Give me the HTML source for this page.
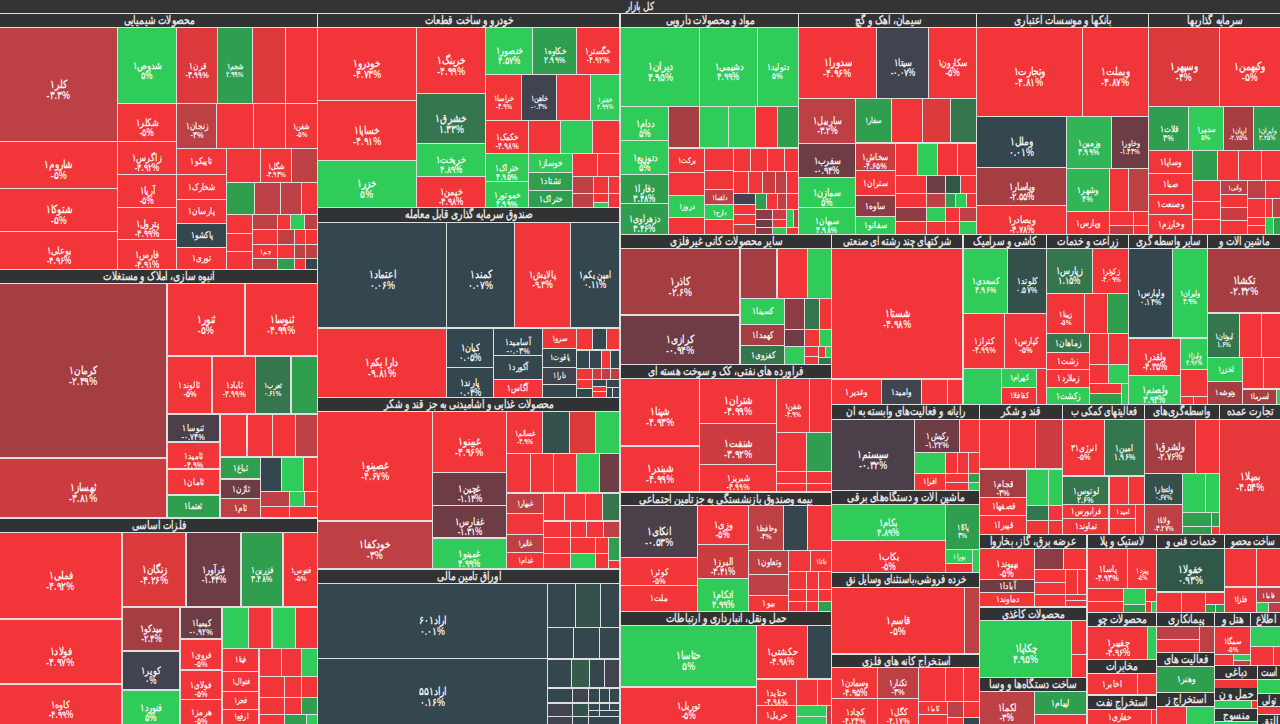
<!DOCTYPE html>
<html lang="fa"><head><meta charset="utf-8"><title>نقشه بازار</title>
<style>
html,body{margin:0;padding:0;}
body{width:1280px;height:724px;overflow:hidden;position:relative;background:#dedede;font-family:"Liberation Sans",sans-serif;}
.c,.h,.t{position:absolute;box-sizing:border-box;}
.c{display:flex;align-items:center;justify-content:center;flex-direction:column;color:rgba(255,255,255,0.92);font-weight:bold;text-align:center;overflow:hidden;white-space:nowrap;line-height:1;}
.h{background:#303234;color:#e2e2e2;font-weight:bold;font-size:12px;line-height:13px;text-align:center;overflow:hidden;white-space:nowrap;direction:rtl;}
.h b{position:absolute;left:50%;top:0;transform-origin:center;}
.t{left:0;top:0;width:1280px;height:13px;background:#333333;color:#e0e0e0;font-weight:bold;font-size:12px;line-height:13px;text-align:center;}
.c span{display:inline-block;direction:rtl;position:relative;}
.c span.p{direction:ltr;}
.c.two span{top:5px;}
</style></head><body>
<div class="t"><span style="display:inline-block;font-size:11px;transform:scaleX(0.8)">کل بازار</span></div>

<div class="h" style="left:0px;top:14px;width:317px;height:13px"><b id="h0" style="transform:translateX(-50%) scaleX(0.760)">محصولات شیمیایی</b></div>
<div class="h" style="left:0px;top:270px;width:317px;height:13px"><b id="h1" style="transform:translateX(-50%) scaleX(0.760)">انبوه سازی، املاک و مستغلات</b></div>
<div class="h" style="left:0px;top:519px;width:317px;height:13px"><b id="h2" style="transform:translateX(-50%) scaleX(0.760)">فلزات اساسی</b></div>
<div class="h" style="left:318px;top:14px;width:301px;height:13px"><b id="h3" style="transform:translateX(-50%) scaleX(0.760)">خودرو و ساخت قطعات</b></div>
<div class="h" style="left:318px;top:208px;width:301px;height:14px"><b id="h4" style="transform:translateX(-50%) scaleX(0.760)">صندوق سرمایه گذاری قابل معامله</b></div>
<div class="h" style="left:318px;top:398px;width:301px;height:13px"><b id="h5" style="transform:translateX(-50%) scaleX(0.760)">محصولات غذایی و آشامیدنی به جز قند و شکر</b></div>
<div class="h" style="left:318px;top:570px;width:301px;height:13px"><b id="h6" style="transform:translateX(-50%) scaleX(0.760)">اوراق تامین مالی</b></div>
<div class="h" style="left:621px;top:14px;width:177px;height:13px"><b id="h7" style="transform:translateX(-50%) scaleX(0.760)">مواد و محصولات دارویی</b></div>
<div class="h" style="left:799px;top:14px;width:177px;height:13px"><b id="h8" style="transform:translateX(-50%) scaleX(0.760)">سیمان، آهک و گچ</b></div>
<div class="h" style="left:977px;top:14px;width:171px;height:13px"><b id="h9" style="transform:translateX(-50%) scaleX(0.760)">بانکها و موسسات اعتباری</b></div>
<div class="h" style="left:1149px;top:14px;width:131px;height:13px"><b id="h10" style="transform:translateX(-50%) scaleX(0.760)">سرمایه گذاریها</b></div>
<div class="h" style="left:621px;top:235px;width:210px;height:13px"><b id="h11" style="transform:translateX(-50%) scaleX(0.760)">سایر محصولات کانی غیرفلزی</b></div>
<div class="h" style="left:621px;top:365px;width:210px;height:13px"><b id="h12" style="transform:translateX(-50%) scaleX(0.760)">فراورده های نفتی، کک و سوخت هسته ای</b></div>
<div class="h" style="left:621px;top:493px;width:210px;height:12px"><b id="h13" style="transform:translateX(-50%) scaleX(0.760)">بیمه وصندوق بازنشستگی به جزتامین اجتماعی</b></div>
<div class="h" style="left:621px;top:612px;width:210px;height:13px"><b id="h14" style="transform:translateX(-50%) scaleX(0.760)">حمل ونقل، انبارداری و ارتباطات</b></div>
<div class="h" style="left:832px;top:235px;width:130px;height:13px"><b id="h15" style="transform:translateX(-50%) scaleX(0.726)">شرکتهای چند رشته ای صنعتی</b></div>
<div class="h" style="left:964px;top:235px;width:82px;height:13px"><b id="h16" style="transform:translateX(-50%) scaleX(0.760)">کاشی و سرامیک</b></div>
<div class="h" style="left:1047px;top:235px;width:81px;height:13px"><b id="h17" style="transform:translateX(-50%) scaleX(0.760)">زراعت و خدمات</b></div>
<div class="h" style="left:1129px;top:235px;width:78px;height:13px"><b id="h18" style="transform:translateX(-50%) scaleX(0.735)">سایر واسطه گری</b></div>
<div class="h" style="left:1208px;top:235px;width:72px;height:13px"><b id="h19" style="transform:translateX(-50%) scaleX(0.760)">ماشین آلات و</b></div>
<div class="h" style="left:832px;top:405px;width:147px;height:14px"><b id="h20" style="transform:translateX(-50%) scaleX(0.760)">رایانه و فعالیت‌های وابسته به آن</b></div>
<div class="h" style="left:980px;top:405px;width:82px;height:14px"><b id="h21" style="transform:translateX(-50%) scaleX(0.760)">قند و شکر</b></div>
<div class="h" style="left:1063px;top:405px;width:81px;height:14px"><b id="h22" style="transform:translateX(-50%) scaleX(0.703)">فعالیتهای کمکی ب</b></div>
<div class="h" style="left:1145px;top:405px;width:74px;height:14px"><b id="h23" style="transform:translateX(-50%) scaleX(0.760)">واسطه‌گری‌های</b></div>
<div class="h" style="left:1220px;top:405px;width:60px;height:14px"><b id="h24" style="transform:translateX(-50%) scaleX(0.760)">تجارت عمده</b></div>
<div class="h" style="left:832px;top:491px;width:147px;height:13px"><b id="h25" style="transform:translateX(-50%) scaleX(0.760)">ماشین آلات و دستگاه‌های برقی</b></div>
<div class="h" style="left:832px;top:573px;width:147px;height:14px"><b id="h26" style="transform:translateX(-50%) scaleX(0.727)">خرده فروشی،باستثنای وسایل نق</b></div>
<div class="h" style="left:832px;top:655px;width:147px;height:12px"><b id="h27" style="transform:translateX(-50%) scaleX(0.760)">استخراج کانه های فلزی</b></div>
<div class="h" style="left:980px;top:535px;width:106px;height:13px"><b id="h28" style="transform:translateX(-50%) scaleX(0.760)">عرضه برق، گاز، بخاروآ</b></div>
<div class="h" style="left:980px;top:608px;width:106px;height:12px"><b id="h29" style="transform:translateX(-50%) scaleX(0.760)">محصولات کاغذی</b></div>
<div class="h" style="left:980px;top:678px;width:106px;height:13px"><b id="h30" style="transform:translateX(-50%) scaleX(0.760)">ساخت دستگاه‌ها و وسا</b></div>
<div class="h" style="left:1088px;top:535px;width:68px;height:13px"><b id="h31" style="transform:translateX(-50%) scaleX(0.760)">لاستیک و پلا</b></div>
<div class="h" style="left:1157px;top:535px;width:67px;height:13px"><b id="h32" style="transform:translateX(-50%) scaleX(0.760)">خدمات فنی و</b></div>
<div class="h" style="left:1225px;top:535px;width:55px;height:13px"><b id="h33" style="transform:translateX(-50%) scaleX(0.667)">ساخت محصو</b></div>
<div class="h" style="left:1088px;top:613px;width:68px;height:13px"><b id="h34" style="transform:translateX(-50%) scaleX(0.760)">محصولات چو</b></div>
<div class="h" style="left:1088px;top:660px;width:68px;height:13px"><b id="h35" style="transform:translateX(-50%) scaleX(0.760)">مخابرات</b></div>
<div class="h" style="left:1088px;top:696px;width:68px;height:13px"><b id="h36" style="transform:translateX(-50%) scaleX(0.760)">استخراج نفت</b></div>
<div class="h" style="left:1157px;top:613px;width:57px;height:13px"><b id="h37" style="transform:translateX(-50%) scaleX(0.760)">پیمانکاری</b></div>
<div class="h" style="left:1157px;top:653px;width:57px;height:13px"><b id="h38" style="transform:translateX(-50%) scaleX(0.760)">فعالیت های</b></div>
<div class="h" style="left:1157px;top:693px;width:57px;height:13px"><b id="h39" style="transform:translateX(-50%) scaleX(0.760)">استخراج ز</b></div>
<div class="h" style="left:1215px;top:613px;width:35px;height:13px"><b id="h40" style="transform:translateX(-50%) scaleX(0.760)">هتل و</b></div>
<div class="h" style="left:1251px;top:613px;width:29px;height:13px"><b id="h41" style="transform:translateX(-50%) scaleX(0.760)">اطلاع</b></div>
<div class="h" style="left:1215px;top:666px;width:42px;height:13px"><b id="h42" style="transform:translateX(-50%) scaleX(0.760)">دباغی</b></div>
<div class="h" style="left:1258px;top:666px;width:22px;height:13px"><b id="h43" style="transform:translateX(-50%) scaleX(0.655)">است</b></div>
<div class="h" style="left:1215px;top:688px;width:42px;height:12px"><b id="h44" style="transform:translateX(-50%) scaleX(0.760)">حمل و ن</b></div>
<div class="h" style="left:1258px;top:694px;width:22px;height:12px"><b id="h45" style="transform:translateX(-50%) scaleX(0.633)">تولی</b></div>
<div class="h" style="left:1215px;top:709px;width:42px;height:12px"><b id="h46" style="transform:translateX(-50%) scaleX(0.760)">منسوج</b></div>
<div class="h" style="left:1258px;top:715px;width:23px;height:10px"><b id="h47" style="transform:translateX(-50%) scaleX(0.760)">التق</b></div>
<div class="c two" style="left:0px;top:28px;width:117px;height:113px;background:#bd4045;font-size:11px;"><span id="c0_0" style="transform:scaleX(0.820)">کلر۱</span><span id="c0_1" class="p" style="transform:scaleX(0.820)">-۳.۳%</span></div>
<div class="c two" style="left:118px;top:28px;width:58px;height:75px;background:#30cc5a;font-size:10px;"><span id="c1_0" style="transform:scaleX(0.820)">شدوص۱</span><span id="c1_1" class="p" style="transform:scaleX(0.820)">۵%</span></div>
<div class="c two" style="left:177px;top:28px;width:40px;height:75px;background:#dc393c;font-size:9px;"><span id="c2_0" style="transform:scaleX(0.820)">قرن۱</span><span id="c2_1" class="p" style="transform:scaleX(0.820)">-۳.۹۹%</span></div>
<div class="c two" style="left:218px;top:28px;width:34px;height:75px;background:#2f9e4f;font-size:8px;"><span id="c3_0" style="transform:scaleX(0.820)">شجم۱</span><span id="c3_1" class="p" style="transform:scaleX(0.820)">۲.۹۹%</span></div>
<div class="c" style="left:253px;top:28px;width:32px;height:75px;background:#dc393c;"></div>
<div class="c" style="left:286px;top:28px;width:31px;height:75px;background:#f23538;"></div>
<div class="c two" style="left:118px;top:104px;width:58px;height:37px;background:#f23538;font-size:10px;"><span id="c6_0" style="transform:scaleX(0.820)">شکلر۱</span><span id="c6_1" class="p" style="transform:scaleX(0.820)">-۵%</span></div>
<div class="c two" style="left:177px;top:104px;width:39px;height:44px;background:#bd4045;font-size:9px;"><span id="c7_0" style="transform:scaleX(0.820)">زنجان۱</span><span id="c7_1" class="p" style="transform:scaleX(0.820)">-۳%</span></div>
<div class="c" style="left:217px;top:104px;width:36px;height:44px;background:#f23538;"></div>
<div class="c" style="left:254px;top:104px;width:31px;height:44px;background:#f23538;"></div>
<div class="c two" style="left:286px;top:104px;width:31px;height:44px;background:#f23538;font-size:8px;"><span id="c10_0" style="transform:scaleX(0.820)">شفن۱</span><span id="c10_1" class="p" style="transform:scaleX(0.820)">-۵%</span></div>
<div class="c two" style="left:0px;top:142px;width:117px;height:46px;background:#f23538;font-size:11px;"><span id="c11_0" style="transform:scaleX(0.820)">شاروم۱</span><span id="c11_1" class="p" style="transform:scaleX(0.820)">-۵%</span></div>
<div class="c two" style="left:0px;top:189px;width:117px;height:42px;background:#f23538;font-size:11px;"><span id="c12_0" style="transform:scaleX(0.820)">شتوکا۱</span><span id="c12_1" class="p" style="transform:scaleX(0.820)">-۵%</span></div>
<div class="c two" style="left:0px;top:232px;width:117px;height:37px;background:#f23538;font-size:10px;"><span id="c13_0" style="transform:scaleX(0.820)">بوعلی۱</span><span id="c13_1" class="p" style="transform:scaleX(0.820)">-۴.۹۶%</span></div>
<div class="c two" style="left:118px;top:142px;width:58px;height:32px;background:#f23538;font-size:10px;"><span id="c14_0" style="transform:scaleX(0.820)">زاگرس۱</span><span id="c14_1" class="p" style="transform:scaleX(0.820)">-۴.۹۲%</span></div>
<div class="c two" style="left:118px;top:175px;width:58px;height:32px;background:#f23538;font-size:10px;"><span id="c15_0" style="transform:scaleX(0.820)">آریا۱</span><span id="c15_1" class="p" style="transform:scaleX(0.820)">-۵%</span></div>
<div class="c two" style="left:118px;top:208px;width:58px;height:31px;background:#f23538;font-size:10px;"><span id="c16_0" style="transform:scaleX(0.820)">پترول۱</span><span id="c16_1" class="p" style="transform:scaleX(0.820)">-۴.۹۹%</span></div>
<div class="c two" style="left:118px;top:240px;width:58px;height:29px;background:#f23538;font-size:10px;"><span id="c17_0" style="transform:scaleX(0.820)">فارس۱</span><span id="c17_1" class="p" style="transform:scaleX(0.820)">-۴.۹۱%</span></div>
<div class="c" style="left:177px;top:149px;width:49px;height:25px;background:#f23538;font-size:9px;"><span id="c18_0" style="transform:scaleX(0.820)">تاپیکو۱</span></div>
<div class="c" style="left:177px;top:175px;width:49px;height:24px;background:#f23538;font-size:9px;"><span id="c19_0" style="transform:scaleX(0.820)">شخارک۱</span></div>
<div class="c" style="left:177px;top:200px;width:49px;height:23px;background:#f23538;font-size:9px;"><span id="c20_0" style="transform:scaleX(0.820)">پارسان۱</span></div>
<div class="c" style="left:177px;top:224px;width:49px;height:23px;background:#35474e;font-size:9px;"><span id="c21_0" style="transform:scaleX(0.820)">پاکشو۱</span></div>
<div class="c" style="left:177px;top:248px;width:49px;height:21px;background:#f23538;font-size:9px;"><span id="c22_0" style="transform:scaleX(0.820)">توری۱</span></div>
<div class="c" style="left:227px;top:149px;width:33px;height:33px;background:#f23538;"></div>
<div class="c two" style="left:261px;top:149px;width:30px;height:33px;background:#f23538;font-size:8px;"><span id="c24_0" style="transform:scaleX(0.820)">شگل۱</span><span id="c24_1" class="p" style="transform:scaleX(0.820)">-۴.۹۴%</span></div>
<div class="c" style="left:292px;top:149px;width:25px;height:33px;background:#bd4045;"></div>
<div class="c" style="left:227px;top:183px;width:27px;height:31px;background:#2f9e4f;"></div>
<div class="c" style="left:255px;top:183px;width:25px;height:31px;background:#bd4045;"></div>
<div class="c" style="left:281px;top:183px;width:20px;height:31px;background:#bd4045;"></div>
<div class="c" style="left:302px;top:183px;width:15px;height:31px;background:#f23538;"></div>
<div class="c" style="left:227px;top:215px;width:25px;height:18px;background:#f23538;"></div>
<div class="c" style="left:227px;top:234px;width:25px;height:17px;background:#f23538;"></div>
<div class="c" style="left:227px;top:252px;width:25px;height:17px;background:#f23538;"></div>
<div class="c" style="left:253px;top:215px;width:24px;height:14px;background:#bd4045;"></div>
<div class="c" style="left:253px;top:230px;width:24px;height:14px;background:#f23538;"></div>
<div class="c" style="left:253px;top:245px;width:24px;height:13px;background:#f23538;font-size:7px;"><span id="c35_0" style="transform:scaleX(0.820)">جم۱</span></div>
<div class="c" style="left:253px;top:259px;width:24px;height:10px;background:#bd4045;"></div>
<div class="c" style="left:278px;top:215px;width:12px;height:14px;background:#f23538;"></div>
<div class="c" style="left:291px;top:215px;width:13px;height:14px;background:#30cc5a;"></div>
<div class="c" style="left:305px;top:215px;width:12px;height:14px;background:#bd4045;"></div>
<div class="c" style="left:278px;top:230px;width:16px;height:14px;background:#bd4045;"></div>
<div class="c" style="left:295px;top:230px;width:10px;height:14px;background:#f23538;"></div>
<div class="c" style="left:306px;top:230px;width:11px;height:14px;background:#f23538;"></div>
<div class="c" style="left:278px;top:245px;width:16px;height:13px;background:#f23538;"></div>
<div class="c" style="left:295px;top:245px;width:10px;height:13px;background:#bd4045;"></div>
<div class="c" style="left:306px;top:245px;width:11px;height:13px;background:#bd4045;"></div>
<div class="c" style="left:278px;top:259px;width:16px;height:10px;background:#2f9e4f;"></div>
<div class="c" style="left:295px;top:259px;width:10px;height:10px;background:#f23538;"></div>
<div class="c" style="left:306px;top:259px;width:11px;height:10px;background:#35474e;"></div>
<div class="c two" style="left:0px;top:284px;width:166px;height:173px;background:#a53e43;font-size:11px;"><span id="c49_0" style="transform:scaleX(0.820)">کرمان۱</span><span id="c49_1" class="p" style="transform:scaleX(0.820)">-۲.۴۹%</span></div>
<div class="c two" style="left:0px;top:459px;width:166px;height:58px;background:#cb3b3f;font-size:11px;"><span id="c50_0" style="transform:scaleX(0.820)">ثهساز۱</span><span id="c50_1" class="p" style="transform:scaleX(0.820)">-۳.۸۱%</span></div>
<div class="c two" style="left:168px;top:284px;width:76px;height:71px;background:#f23538;font-size:11px;"><span id="c51_0" style="transform:scaleX(0.820)">ثنور۱</span><span id="c51_1" class="p" style="transform:scaleX(0.820)">-۵%</span></div>
<div class="c two" style="left:246px;top:284px;width:71px;height:71px;background:#f23538;font-size:11px;"><span id="c52_0" style="transform:scaleX(0.820)">ثنوسا۱</span><span id="c52_1" class="p" style="transform:scaleX(0.820)">-۴.۹۹%</span></div>
<div class="c two" style="left:168px;top:357px;width:43px;height:56px;background:#f23538;font-size:9px;"><span id="c53_0" style="transform:scaleX(0.820)">ثالوند۱</span><span id="c53_1" class="p" style="transform:scaleX(0.820)">-۵%</span></div>
<div class="c two" style="left:213px;top:357px;width:42px;height:56px;background:#f23538;font-size:9px;"><span id="c54_0" style="transform:scaleX(0.820)">ثاباد۱</span><span id="c54_1" class="p" style="transform:scaleX(0.820)">-۴.۹۹%</span></div>
<div class="c two" style="left:256px;top:357px;width:34px;height:56px;background:#35764e;font-size:8px;"><span id="c55_0" style="transform:scaleX(0.820)">ثعرب۱</span><span id="c55_1" class="p" style="transform:scaleX(0.820)">۰.۶۱%</span></div>
<div class="c" style="left:292px;top:357px;width:25px;height:56px;background:#2f9e4f;"></div>
<div class="c two" style="left:168px;top:415px;width:51px;height:26px;background:#4b3f49;font-size:9px;"><span id="c57_0" style="transform:scaleX(0.820)">ثنوسا۱</span><span id="c57_1" class="p" style="transform:scaleX(0.820)">-۰.۷۴%</span></div>
<div class="c two" style="left:168px;top:443px;width:51px;height:25px;background:#f23538;font-size:9px;"><span id="c58_0" style="transform:scaleX(0.820)">ثامید۱</span><span id="c58_1" class="p" style="transform:scaleX(0.820)">-۴.۹%</span></div>
<div class="c" style="left:168px;top:470px;width:51px;height:24px;background:#f23538;font-size:9px;"><span id="c59_0" style="transform:scaleX(0.820)">ثامان۱</span></div>
<div class="c" style="left:168px;top:496px;width:51px;height:21px;background:#2f9e4f;font-size:9px;"><span id="c60_0" style="transform:scaleX(0.820)">ثعتما۱</span></div>
<div class="c" style="left:221px;top:415px;width:25px;height:41px;background:#f23538;"></div>
<div class="c" style="left:248px;top:415px;width:24px;height:41px;background:#f23538;"></div>
<div class="c" style="left:273px;top:415px;width:22px;height:41px;background:#f23538;"></div>
<div class="c" style="left:296px;top:415px;width:21px;height:41px;background:#bd4045;"></div>
<div class="c" style="left:221px;top:458px;width:39px;height:20px;background:#2f9e4f;font-size:9px;"><span id="c65_0" style="transform:scaleX(0.820)">ثباغ۱</span></div>
<div class="c" style="left:221px;top:480px;width:39px;height:18px;background:#6e3c45;font-size:9px;"><span id="c66_0" style="transform:scaleX(0.820)">ثاژن۱</span></div>
<div class="c" style="left:221px;top:499px;width:39px;height:18px;background:#bd4045;font-size:9px;"><span id="c67_0" style="transform:scaleX(0.820)">ثام۱</span></div>
<div class="c" style="left:261px;top:458px;width:20px;height:33px;background:#35474e;"></div>
<div class="c" style="left:282px;top:458px;width:21px;height:33px;background:#30cc5a;"></div>
<div class="c" style="left:304px;top:458px;width:13px;height:33px;background:#f23538;"></div>
<div class="c" style="left:261px;top:492px;width:28px;height:14px;background:#bd4045;"></div>
<div class="c" style="left:290px;top:492px;width:14px;height:14px;background:#30cc5a;"></div>
<div class="c" style="left:305px;top:492px;width:12px;height:14px;background:#f23538;"></div>
<div class="c" style="left:261px;top:507px;width:28px;height:10px;background:#f23538;"></div>
<div class="c" style="left:290px;top:507px;width:27px;height:10px;background:#f23538;"></div>
<div class="c two" style="left:0px;top:533px;width:121px;height:85px;background:#f23538;font-size:11px;"><span id="c76_0" style="transform:scaleX(0.820)">فملی۱</span><span id="c76_1" class="p" style="transform:scaleX(0.820)">-۴.۹۲%</span></div>
<div class="c two" style="left:0px;top:620px;width:121px;height:63px;background:#f23538;font-size:11px;"><span id="c77_0" style="transform:scaleX(0.820)">فولاد۱</span><span id="c77_1" class="p" style="transform:scaleX(0.820)">-۴.۹۷%</span></div>
<div class="c two" style="left:0px;top:685px;width:121px;height:39px;background:#f23538;font-size:10px;"><span id="c78_0" style="transform:scaleX(0.820)">کاوه۱</span><span id="c78_1" class="p" style="transform:scaleX(0.820)">-۴.۹۹%</span></div>
<div class="c two" style="left:123px;top:533px;width:62px;height:73px;background:#dc393c;font-size:11px;"><span id="c79_0" style="transform:scaleX(0.820)">زنگان۱</span><span id="c79_1" class="p" style="transform:scaleX(0.820)">-۴.۲۶%</span></div>
<div class="c two" style="left:187px;top:533px;width:53px;height:73px;background:#6e3c45;font-size:10px;"><span id="c80_0" style="transform:scaleX(0.820)">فرآور۱</span><span id="c80_1" class="p" style="transform:scaleX(0.820)">-۱.۴۴%</span></div>
<div class="c two" style="left:242px;top:533px;width:40px;height:73px;background:#2f9e4f;font-size:9px;"><span id="c81_0" style="transform:scaleX(0.820)">فزرین۱</span><span id="c81_1" class="p" style="transform:scaleX(0.820)">۳.۴۸%</span></div>
<div class="c two" style="left:284px;top:533px;width:33px;height:73px;background:#f23538;font-size:8px;"><span id="c82_0" style="transform:scaleX(0.820)">فنوس۱</span><span id="c82_1" class="p" style="transform:scaleX(0.820)">-۵%</span></div>
<div class="c two" style="left:123px;top:608px;width:56px;height:42px;background:#a53e43;font-size:10px;"><span id="c83_0" style="transform:scaleX(0.820)">میدکو۱</span><span id="c83_1" class="p" style="transform:scaleX(0.820)">-۲.۴%</span></div>
<div class="c two" style="left:181px;top:608px;width:40px;height:30px;background:#6e3c45;font-size:9px;"><span id="c84_0" style="transform:scaleX(0.820)">کیمیا۱</span><span id="c84_1" class="p" style="transform:scaleX(0.820)">-۰.۹۲%</span></div>
<div class="c two" style="left:181px;top:640px;width:40px;height:29px;background:#f23538;font-size:9px;"><span id="c85_0" style="transform:scaleX(0.820)">فروی۱</span><span id="c85_1" class="p" style="transform:scaleX(0.820)">-۵%</span></div>
<div class="c two" style="left:181px;top:671px;width:40px;height:28px;background:#f23538;font-size:9px;"><span id="c86_0" style="transform:scaleX(0.820)">فولای۱</span><span id="c86_1" class="p" style="transform:scaleX(0.820)">-۵%</span></div>
<div class="c two" style="left:181px;top:700px;width:40px;height:24px;background:#f23538;font-size:9px;"><span id="c87_0" style="transform:scaleX(0.820)">هرمز۱</span><span id="c87_1" class="p" style="transform:scaleX(0.820)">-۵%</span></div>
<div class="c two" style="left:123px;top:652px;width:56px;height:37px;background:#41434f;font-size:10px;"><span id="c88_0" style="transform:scaleX(0.820)">کویر۱</span><span id="c88_1" class="p" style="transform:scaleX(0.820)">۰%</span></div>
<div class="c two" style="left:123px;top:691px;width:56px;height:33px;background:#30cc5a;font-size:10px;"><span id="c89_0" style="transform:scaleX(0.820)">فنورد۱</span><span id="c89_1" class="p" style="transform:scaleX(0.820)">۵%</span></div>
<div class="c" style="left:223px;top:608px;width:25px;height:40px;background:#30cc5a;"></div>
<div class="c" style="left:249px;top:608px;width:22px;height:40px;background:#f23538;"></div>
<div class="c" style="left:273px;top:608px;width:22px;height:40px;background:#30cc5a;"></div>
<div class="c" style="left:296px;top:608px;width:21px;height:40px;background:#f23538;"></div>
<div class="c" style="left:223px;top:649px;width:35px;height:22px;background:#f23538;font-size:8px;"><span id="c94_0" style="transform:scaleX(0.820)">فیتا۱</span></div>
<div class="c" style="left:223px;top:672px;width:35px;height:19px;background:#f23538;font-size:8px;"><span id="c95_0" style="transform:scaleX(0.820)">فنوال۱</span></div>
<div class="c" style="left:223px;top:692px;width:35px;height:17px;background:#f23538;font-size:8px;"><span id="c96_0" style="transform:scaleX(0.820)">فجر۱</span></div>
<div class="c" style="left:223px;top:710px;width:35px;height:14px;background:#f23538;font-size:8px;"><span id="c97_0" style="transform:scaleX(0.820)">ارفع۱</span></div>
<div class="c" style="left:260px;top:649px;width:21px;height:27px;background:#f23538;"></div>
<div class="c" style="left:282px;top:649px;width:19px;height:27px;background:#f23538;"></div>
<div class="c" style="left:302px;top:649px;width:15px;height:27px;background:#30cc5a;"></div>
<div class="c" style="left:260px;top:677px;width:24px;height:20px;background:#f23538;"></div>
<div class="c" style="left:285px;top:677px;width:16px;height:20px;background:#f23538;"></div>
<div class="c" style="left:302px;top:677px;width:15px;height:20px;background:#f23538;"></div>
<div class="c" style="left:260px;top:698px;width:24px;height:16px;background:#f23538;"></div>
<div class="c" style="left:285px;top:698px;width:16px;height:16px;background:#f23538;"></div>
<div class="c" style="left:302px;top:698px;width:15px;height:16px;background:#2f9e4f;"></div>
<div class="c" style="left:260px;top:715px;width:24px;height:9px;background:#f23538;"></div>
<div class="c" style="left:285px;top:715px;width:21px;height:9px;background:#2f9e4f;"></div>
<div class="c" style="left:307px;top:715px;width:10px;height:9px;background:#30cc5a;"></div>
<div class="c two" style="left:318px;top:28px;width:98px;height:72px;background:#f23538;font-size:11px;"><span id="c110_0" style="transform:scaleX(0.820)">خودرو۱</span><span id="c110_1" class="p" style="transform:scaleX(0.820)">-۴.۷۳%</span></div>
<div class="c two" style="left:318px;top:101px;width:98px;height:59px;background:#f23538;font-size:11px;"><span id="c111_0" style="transform:scaleX(0.820)">خساپا۱</span><span id="c111_1" class="p" style="transform:scaleX(0.820)">-۴.۹۱%</span></div>
<div class="c two" style="left:318px;top:161px;width:98px;height:46px;background:#30cc5a;font-size:11px;"><span id="c112_0" style="transform:scaleX(0.820)">خزر۱</span><span id="c112_1" class="p" style="transform:scaleX(0.820)">۵%</span></div>
<div class="c two" style="left:417px;top:28px;width:68px;height:65px;background:#f23538;font-size:11px;"><span id="c113_0" style="transform:scaleX(0.820)">خرینگ۱</span><span id="c113_1" class="p" style="transform:scaleX(0.820)">-۴.۹۹%</span></div>
<div class="c two" style="left:417px;top:94px;width:68px;height:49px;background:#35764e;font-size:11px;"><span id="c114_0" style="transform:scaleX(0.820)">خشرق۱</span><span id="c114_1" class="p" style="transform:scaleX(0.820)">۱.۳۳%</span></div>
<div class="c two" style="left:417px;top:144px;width:68px;height:32px;background:#30cc5a;font-size:10px;"><span id="c115_0" style="transform:scaleX(0.820)">خریخت۱</span><span id="c115_1" class="p" style="transform:scaleX(0.820)">۴.۸۹%</span></div>
<div class="c two" style="left:417px;top:177px;width:68px;height:30px;background:#f23538;font-size:10px;"><span id="c116_0" style="transform:scaleX(0.820)">خپمن۱</span><span id="c116_1" class="p" style="transform:scaleX(0.820)">-۴.۹۸%</span></div>
<div class="c two" style="left:486px;top:28px;width:46px;height:46px;background:#30cc5a;font-size:10px;"><span id="c117_0" style="transform:scaleX(0.820)">خنصور۱</span><span id="c117_1" class="p" style="transform:scaleX(0.820)">۴.۵۷%</span></div>
<div class="c two" style="left:533px;top:28px;width:43px;height:46px;background:#2f9e4f;font-size:9px;"><span id="c118_0" style="transform:scaleX(0.820)">خکاوه۱</span><span id="c118_1" class="p" style="transform:scaleX(0.820)">۲.۹۹%</span></div>
<div class="c two" style="left:577px;top:28px;width:42px;height:46px;background:#f23538;font-size:9px;"><span id="c119_0" style="transform:scaleX(0.820)">خگستر۱</span><span id="c119_1" class="p" style="transform:scaleX(0.820)">-۴.۹۲%</span></div>
<div class="c two" style="left:486px;top:75px;width:35px;height:45px;background:#f23538;font-size:8px;"><span id="c120_0" style="transform:scaleX(0.820)">خراسا۱</span><span id="c120_1" class="p" style="transform:scaleX(0.820)">-۴.۹%</span></div>
<div class="c two" style="left:522px;top:75px;width:34px;height:45px;background:#41434f;font-size:8px;"><span id="c121_0" style="transform:scaleX(0.820)">خاهن۱</span><span id="c121_1" class="p" style="transform:scaleX(0.820)">-۰.۳%</span></div>
<div class="c" style="left:557px;top:75px;width:33px;height:45px;background:#f23538;"></div>
<div class="c two" style="left:591px;top:75px;width:28px;height:45px;background:#30cc5a;font-size:7px;"><span id="c123_0" style="transform:scaleX(0.820)">خفنر۱</span><span id="c123_1" class="p" style="transform:scaleX(0.820)">۲.۹۹%</span></div>
<div class="c two" style="left:486px;top:121px;width:42px;height:32px;background:#f23538;font-size:9px;"><span id="c124_0" style="transform:scaleX(0.820)">خکمک۱</span><span id="c124_1" class="p" style="transform:scaleX(0.820)">-۴.۹۸%</span></div>
<div class="c" style="left:529px;top:121px;width:31px;height:32px;background:#f23538;"></div>
<div class="c" style="left:561px;top:121px;width:31px;height:32px;background:#30cc5a;"></div>
<div class="c" style="left:593px;top:121px;width:26px;height:32px;background:#f23538;"></div>
<div class="c two" style="left:486px;top:154px;width:42px;height:27px;background:#30cc5a;font-size:9px;"><span id="c128_0" style="transform:scaleX(0.820)">ختراک۱</span><span id="c128_1" class="p" style="transform:scaleX(0.820)">۴.۹۵%</span></div>
<div class="c two" style="left:486px;top:182px;width:42px;height:25px;background:#30cc5a;font-size:9px;"><span id="c129_0" style="transform:scaleX(0.820)">خموتور۱</span><span id="c129_1" class="p" style="transform:scaleX(0.820)">۴.۹۹%</span></div>
<div class="c" style="left:529px;top:154px;width:43px;height:18px;background:#30cc5a;font-size:9px;"><span id="c130_0" style="transform:scaleX(0.820)">خوساز۱</span></div>
<div class="c" style="left:529px;top:173px;width:43px;height:17px;background:#2f9e4f;font-size:9px;"><span id="c131_0" style="transform:scaleX(0.820)">تشتاد۱</span></div>
<div class="c" style="left:529px;top:191px;width:43px;height:16px;background:#2f9e4f;font-size:9px;"><span id="c132_0" style="transform:scaleX(0.820)">ختراک۱</span></div>
<div class="c" style="left:573px;top:154px;width:24px;height:22px;background:#f23538;"></div>
<div class="c" style="left:598px;top:154px;width:21px;height:22px;background:#f23538;"></div>
<div class="c" style="left:573px;top:177px;width:20px;height:16px;background:#bd4045;"></div>
<div class="c" style="left:594px;top:177px;width:14px;height:16px;background:#f23538;"></div>
<div class="c" style="left:609px;top:177px;width:10px;height:16px;background:#f23538;"></div>
<div class="c" style="left:573px;top:194px;width:20px;height:13px;background:#bd4045;"></div>
<div class="c" style="left:594px;top:194px;width:14px;height:8px;background:#f23538;"></div>
<div class="c" style="left:594px;top:203px;width:14px;height:4px;background:#30cc5a;"></div>
<div class="c" style="left:609px;top:194px;width:10px;height:13px;background:#f23538;"></div>
<div class="c two" style="left:318px;top:223px;width:128px;height:104px;background:#35474e;font-size:11px;"><span id="c142_0" style="transform:scaleX(0.820)">اعتماد۱</span><span id="c142_1" class="p" style="transform:scaleX(0.820)">۰.۰۶%</span></div>
<div class="c two" style="left:447px;top:223px;width:67px;height:104px;background:#35474e;font-size:11px;"><span id="c143_0" style="transform:scaleX(0.820)">کمند۱</span><span id="c143_1" class="p" style="transform:scaleX(0.820)">۰.۰۷%</span></div>
<div class="c two" style="left:515px;top:223px;width:55px;height:104px;background:#f23538;font-size:10px;"><span id="c144_0" style="transform:scaleX(0.820)">پالایش۱</span><span id="c144_1" class="p" style="transform:scaleX(0.820)">-۹.۳%</span></div>
<div class="c two" style="left:571px;top:223px;width:48px;height:104px;background:#35474e;font-size:10px;"><span id="c145_0" style="transform:scaleX(0.746)">امین یکم۱</span><span id="c145_1" class="p" style="transform:scaleX(0.820)">۰.۱۱%</span></div>
<div class="c two" style="left:318px;top:329px;width:128px;height:68px;background:#f23538;font-size:11px;"><span id="c146_0" style="transform:scaleX(0.820)">دارا یکم۱</span><span id="c146_1" class="p" style="transform:scaleX(0.820)">-۹.۸۱%</span></div>
<div class="c two" style="left:447px;top:329px;width:46px;height:38px;background:#35474e;font-size:10px;"><span id="c147_0" style="transform:scaleX(0.820)">کیان۱</span><span id="c147_1" class="p" style="transform:scaleX(0.820)">۰.۰۵%</span></div>
<div class="c two" style="left:447px;top:368px;width:46px;height:29px;background:#35474e;font-size:10px;"><span id="c148_0" style="transform:scaleX(0.820)">پارند۱</span><span id="c148_1" class="p" style="transform:scaleX(0.820)">۰.۰۴%</span></div>
<div class="c two" style="left:494px;top:329px;width:48px;height:26px;background:#35474e;font-size:9px;"><span id="c149_0" style="transform:scaleX(0.820)">آسامید۱</span><span id="c149_1" class="p" style="transform:scaleX(0.820)">-۰.۰۳%</span></div>
<div class="c" style="left:494px;top:356px;width:48px;height:23px;background:#35474e;font-size:9px;"><span id="c150_0" style="transform:scaleX(0.820)">آکورد۱</span></div>
<div class="c" style="left:494px;top:380px;width:48px;height:17px;background:#f23538;font-size:9px;"><span id="c151_0" style="transform:scaleX(0.820)">آگاس۱</span></div>
<div class="c" style="left:543px;top:329px;width:33px;height:19px;background:#f23538;font-size:8px;"><span id="c152_0" style="transform:scaleX(0.820)">سرو۱</span></div>
<div class="c" style="left:543px;top:349px;width:33px;height:18px;background:#35474e;font-size:8px;"><span id="c153_0" style="transform:scaleX(0.820)">یاقوت۱</span></div>
<div class="c" style="left:543px;top:368px;width:33px;height:16px;background:#41434f;font-size:8px;"><span id="c154_0" style="transform:scaleX(0.820)">دارا۱</span></div>
<div class="c" style="left:543px;top:385px;width:33px;height:12px;background:#35474e;"></div>
<div class="c" style="left:577px;top:329px;width:15px;height:20px;background:#f23538;"></div>
<div class="c" style="left:593px;top:329px;width:13px;height:20px;background:#35474e;"></div>
<div class="c" style="left:607px;top:329px;width:12px;height:20px;background:#f23538;"></div>
<div class="c" style="left:577px;top:351px;width:12px;height:17px;background:#35474e;"></div>
<div class="c" style="left:590px;top:351px;width:11px;height:17px;background:#35474e;"></div>
<div class="c" style="left:602px;top:351px;width:8px;height:17px;background:#f23538;"></div>
<div class="c" style="left:611px;top:351px;width:8px;height:17px;background:#35474e;"></div>
<div class="c" style="left:577px;top:369px;width:15px;height:10px;background:#f23538;"></div>
<div class="c" style="left:593px;top:369px;width:8px;height:10px;background:#cb3b3f;"></div>
<div class="c" style="left:602px;top:369px;width:8px;height:10px;background:#bd4045;"></div>
<div class="c" style="left:611px;top:369px;width:8px;height:10px;background:#bd4045;"></div>
<div class="c" style="left:577px;top:380px;width:15px;height:8px;background:#f23538;"></div>
<div class="c" style="left:577px;top:389px;width:15px;height:8px;background:#35474e;"></div>
<div class="c" style="left:593px;top:380px;width:13px;height:6px;background:#41434f;"></div>
<div class="c" style="left:593px;top:387px;width:13px;height:4px;background:#f23538;"></div>
<div class="c" style="left:593px;top:392px;width:13px;height:5px;background:#f23538;"></div>
<div class="c" style="left:607px;top:380px;width:12px;height:7px;background:#35474e;"></div>
<div class="c" style="left:607px;top:388px;width:5px;height:9px;background:#35474e;"></div>
<div class="c" style="left:613px;top:388px;width:6px;height:9px;background:#35474e;"></div>
<div class="c two" style="left:318px;top:412px;width:114px;height:108px;background:#f23538;font-size:11px;"><span id="c175_0" style="transform:scaleX(0.820)">غصینو۱</span><span id="c175_1" class="p" style="transform:scaleX(0.820)">-۴.۶۷%</span></div>
<div class="c two" style="left:318px;top:522px;width:114px;height:46px;background:#bd4045;font-size:11px;"><span id="c176_0" style="transform:scaleX(0.820)">خودکفا۱</span><span id="c176_1" class="p" style="transform:scaleX(0.820)">-۳%</span></div>
<div class="c two" style="left:433px;top:412px;width:73px;height:60px;background:#f23538;font-size:11px;"><span id="c177_0" style="transform:scaleX(0.820)">غبینو۱</span><span id="c177_1" class="p" style="transform:scaleX(0.820)">-۴.۹۶%</span></div>
<div class="c two" style="left:433px;top:473px;width:73px;height:32px;background:#6e3c45;font-size:10px;"><span id="c178_0" style="transform:scaleX(0.820)">غچین۱</span><span id="c178_1" class="p" style="transform:scaleX(0.820)">-۱.۱۴%</span></div>
<div class="c two" style="left:433px;top:506px;width:73px;height:31px;background:#6e3c45;font-size:10px;"><span id="c179_0" style="transform:scaleX(0.820)">غفارس۱</span><span id="c179_1" class="p" style="transform:scaleX(0.820)">-۱.۳۱%</span></div>
<div class="c two" style="left:433px;top:539px;width:73px;height:29px;background:#30cc5a;font-size:10px;"><span id="c180_0" style="transform:scaleX(0.820)">غمینو۱</span><span id="c180_1" class="p" style="transform:scaleX(0.820)">۴.۹۹%</span></div>
<div class="c two" style="left:507px;top:412px;width:35px;height:41px;background:#f23538;font-size:8px;"><span id="c181_0" style="transform:scaleX(0.820)">غسالم۱</span><span id="c181_1" class="p" style="transform:scaleX(0.820)">-۴.۹%</span></div>
<div class="c" style="left:543px;top:412px;width:26px;height:41px;background:#33504a;"></div>
<div class="c" style="left:570px;top:412px;width:25px;height:41px;background:#dc393c;"></div>
<div class="c" style="left:596px;top:412px;width:23px;height:41px;background:#30cc5a;"></div>
<div class="c" style="left:507px;top:454px;width:23px;height:38px;background:#f23538;"></div>
<div class="c" style="left:531px;top:454px;width:22px;height:38px;background:#f23538;"></div>
<div class="c" style="left:554px;top:454px;width:22px;height:38px;background:#f23538;"></div>
<div class="c" style="left:577px;top:454px;width:22px;height:38px;background:#30cc5a;"></div>
<div class="c" style="left:600px;top:454px;width:19px;height:38px;background:#6e3c45;"></div>
<div class="c" style="left:507px;top:494px;width:36px;height:19px;background:#bd4045;font-size:8px;"><span id="c190_0" style="transform:scaleX(0.820)">غبهار۱</span></div>
<div class="c" style="left:507px;top:514px;width:36px;height:20px;background:#f23538;"></div>
<div class="c" style="left:507px;top:535px;width:36px;height:17px;background:#bd4045;font-size:8px;"><span id="c192_0" style="transform:scaleX(0.820)">غالبر۱</span></div>
<div class="c" style="left:507px;top:553px;width:36px;height:15px;background:#f23538;font-size:8px;"><span id="c193_0" style="transform:scaleX(0.820)">غدام۱</span></div>
<div class="c" style="left:544px;top:494px;width:20px;height:26px;background:#f23538;"></div>
<div class="c" style="left:565px;top:494px;width:20px;height:26px;background:#f23538;"></div>
<div class="c" style="left:586px;top:494px;width:16px;height:26px;background:#f23538;"></div>
<div class="c" style="left:603px;top:494px;width:16px;height:26px;background:#35764e;"></div>
<div class="c" style="left:544px;top:522px;width:26px;height:15px;background:#f23538;"></div>
<div class="c" style="left:571px;top:522px;width:15px;height:15px;background:#f23538;"></div>
<div class="c" style="left:587px;top:522px;width:16px;height:15px;background:#f23538;"></div>
<div class="c" style="left:604px;top:522px;width:15px;height:15px;background:#bd4045;"></div>
<div class="c" style="left:544px;top:538px;width:26px;height:15px;background:#f23538;"></div>
<div class="c" style="left:571px;top:538px;width:24px;height:15px;background:#f23538;"></div>
<div class="c" style="left:596px;top:538px;width:12px;height:15px;background:#f23538;"></div>
<div class="c" style="left:609px;top:538px;width:10px;height:22px;background:#2f9e4f;"></div>
<div class="c" style="left:544px;top:554px;width:26px;height:14px;background:#f23538;"></div>
<div class="c" style="left:571px;top:554px;width:24px;height:14px;background:#30cc5a;"></div>
<div class="c" style="left:596px;top:554px;width:12px;height:14px;background:#f23538;"></div>
<div class="c" style="left:609px;top:561px;width:10px;height:7px;background:#f23538;"></div>
<div class="c two" style="left:318px;top:584px;width:229px;height:74px;background:#35474e;font-size:11px;"><span id="c210_0" style="transform:scaleX(0.820)">اراد۶۰۱</span><span id="c210_1" class="p" style="transform:scaleX(0.820)">۰.۰۱%</span></div>
<div class="c two" style="left:318px;top:659px;width:229px;height:65px;background:#35474e;font-size:11px;"><span id="c211_0" style="transform:scaleX(0.820)">اراد۵۵۱</span><span id="c211_1" class="p" style="transform:scaleX(0.820)">۰.۱۶%</span></div>
<div class="c" style="left:548px;top:584px;width:27px;height:43px;background:#35474e;"></div>
<div class="c" style="left:576px;top:584px;width:24px;height:43px;background:#33504a;"></div>
<div class="c" style="left:601px;top:584px;width:18px;height:43px;background:#35474e;"></div>
<div class="c" style="left:548px;top:628px;width:25px;height:30px;background:#35474e;"></div>
<div class="c" style="left:574px;top:628px;width:25px;height:30px;background:#35474e;"></div>
<div class="c" style="left:600px;top:628px;width:19px;height:30px;background:#35474e;"></div>
<div class="c" style="left:548px;top:660px;width:23px;height:27px;background:#35474e;"></div>
<div class="c" style="left:572px;top:660px;width:17px;height:27px;background:#355c4a;"></div>
<div class="c" style="left:590px;top:660px;width:14px;height:27px;background:#35474e;"></div>
<div class="c" style="left:605px;top:660px;width:14px;height:27px;background:#41434f;"></div>
<div class="c" style="left:548px;top:689px;width:24px;height:13px;background:#35474e;"></div>
<div class="c" style="left:573px;top:689px;width:15px;height:13px;background:#41434f;"></div>
<div class="c" style="left:589px;top:689px;width:10px;height:13px;background:#35474e;"></div>
<div class="c" style="left:600px;top:689px;width:9px;height:13px;background:#35474e;"></div>
<div class="c" style="left:610px;top:689px;width:9px;height:13px;background:#35474e;"></div>
<div class="c" style="left:548px;top:704px;width:24px;height:12px;background:#41434f;"></div>
<div class="c" style="left:573px;top:704px;width:15px;height:12px;background:#33504a;"></div>
<div class="c" style="left:589px;top:704px;width:10px;height:6px;background:#35474e;"></div>
<div class="c" style="left:600px;top:704px;width:9px;height:6px;background:#35474e;"></div>
<div class="c" style="left:610px;top:704px;width:9px;height:6px;background:#35474e;"></div>
<div class="c" style="left:589px;top:711px;width:10px;height:5px;background:#35474e;"></div>
<div class="c" style="left:600px;top:711px;width:19px;height:5px;background:#35474e;"></div>
<div class="c" style="left:548px;top:717px;width:24px;height:7px;background:#41434f;"></div>
<div class="c" style="left:573px;top:717px;width:15px;height:7px;background:#35474e;"></div>
<div class="c" style="left:589px;top:717px;width:30px;height:7px;background:#35474e;"></div>
<div class="c two" style="left:621px;top:28px;width:78px;height:78px;background:#30cc5a;font-size:11px;"><span id="c237_0" style="transform:scaleX(0.820)">دیران۱</span><span id="c237_1" class="p" style="transform:scaleX(0.820)">۴.۹۵%</span></div>
<div class="c two" style="left:700px;top:28px;width:57px;height:78px;background:#30cc5a;font-size:10px;"><span id="c238_0" style="transform:scaleX(0.820)">دشیمی۱</span><span id="c238_1" class="p" style="transform:scaleX(0.820)">۴.۹۹%</span></div>
<div class="c two" style="left:758px;top:28px;width:40px;height:78px;background:#30cc5a;font-size:9px;"><span id="c239_0" style="transform:scaleX(0.820)">دتولید۱</span><span id="c239_1" class="p" style="transform:scaleX(0.820)">۵%</span></div>
<div class="c two" style="left:621px;top:107px;width:47px;height:33px;background:#30cc5a;font-size:10px;"><span id="c240_0" style="transform:scaleX(0.820)">ددام۱</span><span id="c240_1" class="p" style="transform:scaleX(0.820)">۵%</span></div>
<div class="c" style="left:669px;top:107px;width:30px;height:40px;background:#a53e43;"></div>
<div class="c" style="left:700px;top:107px;width:28px;height:40px;background:#30cc5a;"></div>
<div class="c" style="left:729px;top:107px;width:26px;height:40px;background:#30cc5a;"></div>
<div class="c" style="left:756px;top:107px;width:21px;height:40px;background:#f23538;"></div>
<div class="c" style="left:778px;top:107px;width:20px;height:40px;background:#2f9e4f;"></div>
<div class="c two" style="left:621px;top:141px;width:47px;height:33px;background:#30cc5a;font-size:10px;"><span id="c246_0" style="transform:scaleX(0.820)">دتوزیع۱</span><span id="c246_1" class="p" style="transform:scaleX(0.820)">۵%</span></div>
<div class="c two" style="left:621px;top:175px;width:47px;height:28px;background:#2f9e4f;font-size:10px;"><span id="c247_0" style="transform:scaleX(0.820)">دفارا۱</span><span id="c247_1" class="p" style="transform:scaleX(0.820)">۳.۴۸%</span></div>
<div class="c two" style="left:621px;top:204px;width:47px;height:30px;background:#2f9e4f;font-size:10px;"><span id="c248_0" style="transform:scaleX(0.747)">دزهراوی۱</span><span id="c248_1" class="p" style="transform:scaleX(0.820)">۳.۴۶%</span></div>
<div class="c" style="left:669px;top:149px;width:35px;height:23px;background:#f23538;font-size:8px;"><span id="c249_0" style="transform:scaleX(0.820)">برکت۱</span></div>
<div class="c" style="left:669px;top:173px;width:35px;height:22px;background:#f23538;"></div>
<div class="c" style="left:669px;top:196px;width:35px;height:21px;background:#30cc5a;font-size:8px;"><span id="c251_0" style="transform:scaleX(0.820)">دروز۱</span></div>
<div class="c" style="left:669px;top:218px;width:35px;height:16px;background:#f23538;"></div>
<div class="c" style="left:705px;top:149px;width:28px;height:21px;background:#f23538;"></div>
<div class="c" style="left:705px;top:171px;width:28px;height:18px;background:#f23538;"></div>
<div class="c" style="left:705px;top:190px;width:28px;height:14px;background:#bd4045;font-size:7px;"><span id="c255_0" style="transform:scaleX(0.820)">دلقما۱</span></div>
<div class="c" style="left:705px;top:205px;width:28px;height:14px;background:#30cc5a;font-size:7px;"><span id="c256_0" style="transform:scaleX(0.820)">دارح۱</span></div>
<div class="c" style="left:705px;top:220px;width:28px;height:14px;background:#f23538;"></div>
<div class="c" style="left:734px;top:149px;width:16px;height:22px;background:#f23538;"></div>
<div class="c" style="left:751px;top:149px;width:16px;height:22px;background:#f23538;"></div>
<div class="c" style="left:768px;top:149px;width:16px;height:22px;background:#f23538;"></div>
<div class="c" style="left:785px;top:149px;width:13px;height:22px;background:#f23538;"></div>
<div class="c" style="left:734px;top:172px;width:14px;height:21px;background:#f23538;"></div>
<div class="c" style="left:749px;top:172px;width:13px;height:21px;background:#f23538;"></div>
<div class="c" style="left:763px;top:172px;width:12px;height:21px;background:#cb3b3f;"></div>
<div class="c" style="left:776px;top:172px;width:10px;height:21px;background:#bd4045;"></div>
<div class="c" style="left:787px;top:172px;width:11px;height:21px;background:#f23538;"></div>
<div class="c" style="left:734px;top:194px;width:21px;height:10px;background:#41434f;"></div>
<div class="c" style="left:756px;top:194px;width:10px;height:15px;background:#2f9e4f;"></div>
<div class="c" style="left:767px;top:194px;width:10px;height:15px;background:#f23538;"></div>
<div class="c" style="left:778px;top:194px;width:8px;height:15px;background:#bd4045;"></div>
<div class="c" style="left:787px;top:194px;width:11px;height:15px;background:#f23538;"></div>
<div class="c" style="left:734px;top:205px;width:21px;height:9px;background:#f23538;"></div>
<div class="c" style="left:734px;top:215px;width:21px;height:9px;background:#f23538;"></div>
<div class="c" style="left:734px;top:225px;width:21px;height:9px;background:#cb3b3f;"></div>
<div class="c" style="left:756px;top:210px;width:16px;height:9px;background:#8b3c45;"></div>
<div class="c" style="left:756px;top:220px;width:16px;height:7px;background:#6e3c45;"></div>
<div class="c" style="left:756px;top:228px;width:16px;height:6px;background:#8b3c45;"></div>
<div class="c" style="left:773px;top:210px;width:13px;height:9px;background:#cb3b3f;"></div>
<div class="c" style="left:773px;top:220px;width:13px;height:7px;background:#f23538;"></div>
<div class="c" style="left:773px;top:228px;width:13px;height:6px;background:#30cc5a;"></div>
<div class="c" style="left:787px;top:210px;width:6px;height:17px;background:#30cc5a;"></div>
<div class="c" style="left:794px;top:210px;width:4px;height:17px;background:#bd4045;"></div>
<div class="c" style="left:787px;top:228px;width:11px;height:6px;background:#f23538;"></div>
<div class="c two" style="left:799px;top:28px;width:77px;height:70px;background:#f23538;font-size:11px;"><span id="c284_0" style="transform:scaleX(0.820)">سدورا۱</span><span id="c284_1" class="p" style="transform:scaleX(0.820)">-۴.۹۶%</span></div>
<div class="c two" style="left:877px;top:28px;width:51px;height:70px;background:#41434f;font-size:10px;"><span id="c285_0" style="transform:scaleX(0.820)">سیتا۱</span><span id="c285_1" class="p" style="transform:scaleX(0.820)">-۰.۰۷%</span></div>
<div class="c two" style="left:929px;top:28px;width:47px;height:70px;background:#f23538;font-size:10px;"><span id="c286_0" style="transform:scaleX(0.763)">سکارون۱</span><span id="c286_1" class="p" style="transform:scaleX(0.820)">-۵%</span></div>
<div class="c two" style="left:799px;top:99px;width:56px;height:44px;background:#bd4045;font-size:10px;"><span id="c287_0" style="transform:scaleX(0.820)">ساربیل۱</span><span id="c287_1" class="p" style="transform:scaleX(0.820)">-۳.۲%</span></div>
<div class="c two" style="left:799px;top:144px;width:56px;height:33px;background:#6e3c45;font-size:10px;"><span id="c288_0" style="transform:scaleX(0.820)">سفرب۱</span><span id="c288_1" class="p" style="transform:scaleX(0.820)">-۰.۹۴%</span></div>
<div class="c two" style="left:799px;top:178px;width:56px;height:29px;background:#30cc5a;font-size:10px;"><span id="c289_0" style="transform:scaleX(0.820)">سمازن۱</span><span id="c289_1" class="p" style="transform:scaleX(0.820)">۵%</span></div>
<div class="c two" style="left:799px;top:208px;width:56px;height:26px;background:#30cc5a;font-size:9px;"><span id="c290_0" style="transform:scaleX(0.820)">سبهان۱</span><span id="c290_1" class="p" style="transform:scaleX(0.820)">۴.۹۸%</span></div>
<div class="c" style="left:856px;top:99px;width:35px;height:43px;background:#2f9e4f;font-size:8px;"><span id="c291_0" style="transform:scaleX(0.820)">سفار۱</span></div>
<div class="c" style="left:892px;top:99px;width:30px;height:43px;background:#f23538;"></div>
<div class="c" style="left:923px;top:99px;width:27px;height:43px;background:#dc393c;"></div>
<div class="c" style="left:951px;top:99px;width:25px;height:43px;background:#35764e;"></div>
<div class="c two" style="left:856px;top:144px;width:39px;height:26px;background:#cb3b3f;font-size:9px;"><span id="c295_0" style="transform:scaleX(0.820)">سخاش۱</span><span id="c295_1" class="p" style="transform:scaleX(0.820)">-۴.۶۵%</span></div>
<div class="c" style="left:856px;top:171px;width:39px;height:24px;background:#f23538;font-size:9px;"><span id="c296_0" style="transform:scaleX(0.820)">ستران۱</span></div>
<div class="c" style="left:856px;top:196px;width:39px;height:20px;background:#8b3c45;font-size:9px;"><span id="c297_0" style="transform:scaleX(0.820)">ساوه۱</span></div>
<div class="c" style="left:856px;top:217px;width:39px;height:17px;background:#30cc5a;font-size:9px;"><span id="c298_0" style="transform:scaleX(0.820)">سفانو۱</span></div>
<div class="c" style="left:896px;top:144px;width:21px;height:31px;background:#f23538;"></div>
<div class="c" style="left:918px;top:144px;width:19px;height:31px;background:#30cc5a;"></div>
<div class="c" style="left:938px;top:144px;width:19px;height:31px;background:#f23538;"></div>
<div class="c" style="left:958px;top:144px;width:18px;height:31px;background:#f23538;"></div>
<div class="c" style="left:896px;top:176px;width:30px;height:17px;background:#f23538;"></div>
<div class="c" style="left:927px;top:176px;width:18px;height:17px;background:#6e3c45;"></div>
<div class="c" style="left:946px;top:176px;width:14px;height:17px;background:#2f5848;"></div>
<div class="c" style="left:961px;top:176px;width:15px;height:17px;background:#f23538;"></div>
<div class="c" style="left:896px;top:194px;width:30px;height:13px;background:#f23538;"></div>
<div class="c" style="left:927px;top:194px;width:18px;height:13px;background:#bd4045;"></div>
<div class="c" style="left:946px;top:194px;width:9px;height:13px;background:#2f9e4f;"></div>
<div class="c" style="left:956px;top:194px;width:10px;height:13px;background:#30cc5a;"></div>
<div class="c" style="left:967px;top:194px;width:9px;height:13px;background:#f23538;"></div>
<div class="c" style="left:896px;top:208px;width:30px;height:13px;background:#8b3c45;"></div>
<div class="c" style="left:927px;top:208px;width:18px;height:13px;background:#30cc5a;"></div>
<div class="c" style="left:946px;top:208px;width:13px;height:13px;background:#f23538;"></div>
<div class="c" style="left:960px;top:208px;width:16px;height:13px;background:#bd4045;"></div>
<div class="c" style="left:896px;top:222px;width:30px;height:12px;background:#f23538;"></div>
<div class="c" style="left:927px;top:222px;width:18px;height:12px;background:#f23538;"></div>
<div class="c" style="left:946px;top:222px;width:13px;height:12px;background:#f23538;"></div>
<div class="c" style="left:960px;top:222px;width:16px;height:12px;background:#30cc5a;"></div>
<div class="c two" style="left:977px;top:28px;width:105px;height:88px;background:#f23538;font-size:11px;"><span id="c320_0" style="transform:scaleX(0.820)">وتجارت۱</span><span id="c320_1" class="p" style="transform:scaleX(0.820)">-۴.۸۱%</span></div>
<div class="c two" style="left:1083px;top:28px;width:65px;height:88px;background:#f23538;font-size:11px;"><span id="c321_0" style="transform:scaleX(0.820)">وبملت۱</span><span id="c321_1" class="p" style="transform:scaleX(0.820)">-۴.۸۷%</span></div>
<div class="c two" style="left:977px;top:117px;width:89px;height:50px;background:#35474e;font-size:11px;"><span id="c322_0" style="transform:scaleX(0.820)">وملل۱</span><span id="c322_1" class="p" style="transform:scaleX(0.820)">۰.۰۱%</span></div>
<div class="c two" style="left:1067px;top:117px;width:44px;height:51px;background:#31b556;font-size:9px;"><span id="c323_0" style="transform:scaleX(0.820)">وزمین۱</span><span id="c323_1" class="p" style="transform:scaleX(0.820)">۳.۹۹%</span></div>
<div class="c two" style="left:1112px;top:117px;width:36px;height:51px;background:#6e3c45;font-size:8px;"><span id="c324_0" style="transform:scaleX(0.820)">وخاور۱</span><span id="c324_1" class="p" style="transform:scaleX(0.820)">-۱.۴۴%</span></div>
<div class="c two" style="left:977px;top:168px;width:89px;height:37px;background:#a53e43;font-size:10px;"><span id="c325_0" style="transform:scaleX(0.820)">وپاسار۱</span><span id="c325_1" class="p" style="transform:scaleX(0.820)">-۲.۵۵%</span></div>
<div class="c two" style="left:977px;top:206px;width:89px;height:28px;background:#f23538;font-size:10px;"><span id="c326_0" style="transform:scaleX(0.820)">وبصادر۱</span><span id="c326_1" class="p" style="transform:scaleX(0.820)">-۴.۷۸%</span></div>
<div class="c two" style="left:1067px;top:169px;width:42px;height:42px;background:#31b556;font-size:9px;"><span id="c327_0" style="transform:scaleX(0.820)">وشهر۱</span><span id="c327_1" class="p" style="transform:scaleX(0.820)">۴%</span></div>
<div class="c" style="left:1067px;top:212px;width:42px;height:22px;background:#f23538;font-size:9px;"><span id="c328_0" style="transform:scaleX(0.820)">وپارس۱</span></div>
<div class="c" style="left:1110px;top:169px;width:18px;height:42px;background:#f23538;"></div>
<div class="c" style="left:1129px;top:169px;width:19px;height:42px;background:#bd4045;"></div>
<div class="c" style="left:1110px;top:212px;width:23px;height:13px;background:#f23538;"></div>
<div class="c" style="left:1134px;top:212px;width:14px;height:13px;background:#f23538;"></div>
<div class="c" style="left:1110px;top:226px;width:23px;height:8px;background:#bd4045;"></div>
<div class="c" style="left:1134px;top:226px;width:14px;height:8px;background:#f23538;"></div>
<div class="c two" style="left:1149px;top:28px;width:70px;height:78px;background:#dc393c;font-size:11px;"><span id="c335_0" style="transform:scaleX(0.820)">وسپهر۱</span><span id="c335_1" class="p" style="transform:scaleX(0.820)">-۴%</span></div>
<div class="c two" style="left:1220px;top:28px;width:60px;height:78px;background:#f23538;font-size:11px;"><span id="c336_0" style="transform:scaleX(0.820)">وکبهمن۱</span><span id="c336_1" class="p" style="transform:scaleX(0.820)">-۵%</span></div>
<div class="c two" style="left:1149px;top:107px;width:39px;height:43px;background:#2f9e4f;font-size:9px;"><span id="c337_0" style="transform:scaleX(0.820)">قلات۱</span><span id="c337_1" class="p" style="transform:scaleX(0.820)">۳%</span></div>
<div class="c two" style="left:1189px;top:107px;width:34px;height:43px;background:#30cc5a;font-size:8px;"><span id="c338_0" style="transform:scaleX(0.820)">سدبیر۱</span><span id="c338_1" class="p" style="transform:scaleX(0.820)">۵%</span></div>
<div class="c two" style="left:1224px;top:107px;width:29px;height:43px;background:#a53e43;font-size:7px;"><span id="c339_0" style="transform:scaleX(0.820)">اریان۱</span><span id="c339_1" class="p" style="transform:scaleX(0.820)">-۲.۷۵%</span></div>
<div class="c two" style="left:1254px;top:107px;width:26px;height:43px;background:#2f9e4f;font-size:7px;"><span id="c340_0" style="transform:scaleX(0.820)">وایران۱</span><span id="c340_1" class="p" style="transform:scaleX(0.820)">۳.۲۵%</span></div>
<div class="c" style="left:1149px;top:151px;width:43px;height:22px;background:#f23538;font-size:9px;"><span id="c341_0" style="transform:scaleX(0.820)">وساپا۱</span></div>
<div class="c" style="left:1149px;top:174px;width:43px;height:20px;background:#f23538;font-size:9px;"><span id="c342_0" style="transform:scaleX(0.820)">صبا۱</span></div>
<div class="c" style="left:1149px;top:195px;width:43px;height:19px;background:#f23538;font-size:9px;"><span id="c343_0" style="transform:scaleX(0.820)">وصنعت۱</span></div>
<div class="c" style="left:1149px;top:215px;width:43px;height:19px;background:#f23538;font-size:9px;"><span id="c344_0" style="transform:scaleX(0.820)">وخارزم۱</span></div>
<div class="c" style="left:1193px;top:151px;width:24px;height:29px;background:#2f9e4f;"></div>
<div class="c" style="left:1218px;top:151px;width:20px;height:29px;background:#f23538;"></div>
<div class="c" style="left:1239px;top:151px;width:22px;height:29px;background:#f23538;"></div>
<div class="c" style="left:1262px;top:151px;width:18px;height:29px;background:#f23538;"></div>
<div class="c" style="left:1193px;top:181px;width:27px;height:20px;background:#f23538;"></div>
<div class="c" style="left:1193px;top:202px;width:27px;height:17px;background:#f23538;"></div>
<div class="c" style="left:1193px;top:220px;width:27px;height:14px;background:#f23538;"></div>
<div class="c" style="left:1221px;top:181px;width:26px;height:13px;background:#bd4045;font-size:7px;"><span id="c352_0" style="transform:scaleX(0.820)">وانی۱</span></div>
<div class="c" style="left:1221px;top:195px;width:26px;height:12px;background:#f23538;"></div>
<div class="c" style="left:1221px;top:208px;width:26px;height:12px;background:#cb3b3f;"></div>
<div class="c" style="left:1221px;top:221px;width:26px;height:13px;background:#f23538;"></div>
<div class="c" style="left:1248px;top:181px;width:17px;height:17px;background:#bd4045;"></div>
<div class="c" style="left:1248px;top:199px;width:17px;height:18px;background:#f23538;"></div>
<div class="c" style="left:1248px;top:218px;width:17px;height:7px;background:#f23538;"></div>
<div class="c" style="left:1248px;top:226px;width:17px;height:8px;background:#f23538;"></div>
<div class="c" style="left:1266px;top:181px;width:14px;height:17px;background:#f23538;"></div>
<div class="c" style="left:1266px;top:199px;width:6px;height:18px;background:#f23538;"></div>
<div class="c" style="left:1273px;top:199px;width:7px;height:18px;background:#bd4045;"></div>
<div class="c" style="left:1266px;top:218px;width:7px;height:16px;background:#30cc5a;"></div>
<div class="c" style="left:1274px;top:218px;width:6px;height:16px;background:#2f9e4f;"></div>
<div class="c two" style="left:621px;top:249px;width:118px;height:65px;background:#a53e43;font-size:11px;"><span id="c365_0" style="transform:scaleX(0.820)">کاذر۱</span><span id="c365_1" class="p" style="transform:scaleX(0.820)">-۲.۶%</span></div>
<div class="c two" style="left:621px;top:316px;width:118px;height:48px;background:#6e3c45;font-size:11px;"><span id="c366_0" style="transform:scaleX(0.820)">کرازی۱</span><span id="c366_1" class="p" style="transform:scaleX(0.820)">-۰.۹۴%</span></div>
<div class="c" style="left:741px;top:249px;width:35px;height:49px;background:#a53e43;"></div>
<div class="c" style="left:778px;top:249px;width:29px;height:49px;background:#f23538;"></div>
<div class="c" style="left:808px;top:249px;width:23px;height:49px;background:#30cc5a;"></div>
<div class="c" style="left:741px;top:299px;width:43px;height:25px;background:#30cc5a;font-size:9px;"><span id="c370_0" style="transform:scaleX(0.820)">کسینا۱</span></div>
<div class="c" style="left:741px;top:325px;width:43px;height:20px;background:#a53e43;font-size:9px;"><span id="c371_0" style="transform:scaleX(0.820)">کهمدا۱</span></div>
<div class="c" style="left:741px;top:346px;width:43px;height:18px;background:#35764e;font-size:9px;"><span id="c372_0" style="transform:scaleX(0.820)">کفزوی۱</span></div>
<div class="c" style="left:785px;top:299px;width:19px;height:30px;background:#8b3c45;"></div>
<div class="c" style="left:805px;top:299px;width:14px;height:30px;background:#35764e;"></div>
<div class="c" style="left:820px;top:299px;width:11px;height:30px;background:#f23538;"></div>
<div class="c" style="left:785px;top:330px;width:19px;height:16px;background:#6e3c45;"></div>
<div class="c" style="left:805px;top:330px;width:14px;height:16px;background:#f23538;"></div>
<div class="c" style="left:820px;top:330px;width:11px;height:16px;background:#30cc5a;"></div>
<div class="c" style="left:785px;top:347px;width:19px;height:17px;background:#30cc5a;"></div>
<div class="c" style="left:805px;top:347px;width:13px;height:9px;background:#f23538;"></div>
<div class="c" style="left:805px;top:357px;width:13px;height:7px;background:#f23538;"></div>
<div class="c" style="left:819px;top:347px;width:6px;height:10px;background:#f23538;"></div>
<div class="c" style="left:826px;top:347px;width:5px;height:10px;background:#30cc5a;"></div>
<div class="c" style="left:819px;top:358px;width:12px;height:6px;background:#35764e;"></div>
<div class="c two" style="left:621px;top:379px;width:78px;height:66px;background:#f23538;font-size:11px;"><span id="c385_0" style="transform:scaleX(0.820)">شپنا۱</span><span id="c385_1" class="p" style="transform:scaleX(0.820)">-۴.۹۳%</span></div>
<div class="c two" style="left:621px;top:447px;width:78px;height:44px;background:#f23538;font-size:11px;"><span id="c386_0" style="transform:scaleX(0.820)">شبندر۱</span><span id="c386_1" class="p" style="transform:scaleX(0.820)">-۴.۹۹%</span></div>
<div class="c two" style="left:700px;top:379px;width:76px;height:44px;background:#f23538;font-size:11px;"><span id="c387_0" style="transform:scaleX(0.820)">شتران۱</span><span id="c387_1" class="p" style="transform:scaleX(0.820)">-۴.۹۹%</span></div>
<div class="c two" style="left:700px;top:424px;width:76px;height:40px;background:#cb3b3f;font-size:11px;"><span id="c388_0" style="transform:scaleX(0.820)">شنفت۱</span><span id="c388_1" class="p" style="transform:scaleX(0.820)">-۳.۹۲%</span></div>
<div class="c two" style="left:700px;top:465px;width:76px;height:26px;background:#f23538;font-size:9px;"><span id="c389_0" style="transform:scaleX(0.820)">شبریز۱</span><span id="c389_1" class="p" style="transform:scaleX(0.820)">-۴.۹۹%</span></div>
<div class="c two" style="left:777px;top:379px;width:32px;height:53px;background:#f23538;font-size:8px;"><span id="c390_0" style="transform:scaleX(0.820)">شفن۱</span><span id="c390_1" class="p" style="transform:scaleX(0.820)">-۴.۹%</span></div>
<div class="c" style="left:810px;top:379px;width:21px;height:53px;background:#f23538;"></div>
<div class="c" style="left:777px;top:433px;width:29px;height:38px;background:#f23538;"></div>
<div class="c" style="left:807px;top:433px;width:24px;height:38px;background:#2f9e4f;"></div>
<div class="c" style="left:777px;top:472px;width:29px;height:11px;background:#f23538;"></div>
<div class="c" style="left:807px;top:472px;width:24px;height:11px;background:#f23538;"></div>
<div class="c" style="left:777px;top:484px;width:29px;height:7px;background:#f23538;"></div>
<div class="c" style="left:807px;top:484px;width:24px;height:7px;background:#f23538;"></div>
<div class="c two" style="left:621px;top:506px;width:76px;height:51px;background:#4b3f49;font-size:11px;"><span id="c398_0" style="transform:scaleX(0.820)">انکای۱</span><span id="c398_1" class="p" style="transform:scaleX(0.820)">-۰.۵۳%</span></div>
<div class="c two" style="left:621px;top:558px;width:76px;height:27px;background:#f23538;font-size:9px;"><span id="c399_0" style="transform:scaleX(0.820)">کوثر۱</span><span id="c399_1" class="p" style="transform:scaleX(0.820)">-۵%</span></div>
<div class="c" style="left:621px;top:586px;width:76px;height:25px;background:#f23538;font-size:9px;"><span id="c400_0" style="transform:scaleX(0.820)">ملت۱</span></div>
<div class="c two" style="left:698px;top:506px;width:50px;height:38px;background:#f23538;font-size:10px;"><span id="c401_0" style="transform:scaleX(0.820)">وزی۱</span><span id="c401_1" class="p" style="transform:scaleX(0.820)">-۵%</span></div>
<div class="c two" style="left:698px;top:545px;width:50px;height:33px;background:#cb3b3f;font-size:10px;"><span id="c402_0" style="transform:scaleX(0.820)">البرز۱</span><span id="c402_1" class="p" style="transform:scaleX(0.820)">-۳.۴۱%</span></div>
<div class="c two" style="left:698px;top:579px;width:50px;height:32px;background:#30cc5a;font-size:10px;"><span id="c403_0" style="transform:scaleX(0.820)">اتکام۱</span><span id="c403_1" class="p" style="transform:scaleX(0.820)">۴.۹۹%</span></div>
<div class="c two" style="left:749px;top:506px;width:34px;height:44px;background:#bd4045;font-size:8px;"><span id="c404_0" style="transform:scaleX(0.802)">وحافظ۱</span><span id="c404_1" class="p" style="transform:scaleX(0.820)">-۳%</span></div>
<div class="c" style="left:784px;top:506px;width:23px;height:44px;background:#35474e;"></div>
<div class="c" style="left:808px;top:506px;width:23px;height:44px;background:#f23538;"></div>
<div class="c" style="left:749px;top:551px;width:39px;height:23px;background:#bd4045;font-size:9px;"><span id="c407_0" style="transform:scaleX(0.813)">وتعاون۱</span></div>
<div class="c" style="left:749px;top:575px;width:39px;height:20px;background:#bd4045;"></div>
<div class="c" style="left:749px;top:596px;width:39px;height:15px;background:#f23538;font-size:9px;"><span id="c409_0" style="transform:scaleX(0.820)">بیو۱</span></div>
<div class="c" style="left:789px;top:551px;width:21px;height:20px;background:#f23538;"></div>
<div class="c" style="left:811px;top:551px;width:20px;height:20px;background:#f23538;font-size:7px;"><span id="c411_0" style="transform:scaleX(0.820)">داتا۱</span></div>
<div class="c" style="left:789px;top:572px;width:17px;height:17px;background:#f23538;"></div>
<div class="c" style="left:807px;top:572px;width:11px;height:17px;background:#f23538;"></div>
<div class="c" style="left:819px;top:572px;width:12px;height:17px;background:#f23538;"></div>
<div class="c" style="left:789px;top:590px;width:17px;height:11px;background:#f23538;"></div>
<div class="c" style="left:807px;top:590px;width:11px;height:11px;background:#f23538;"></div>
<div class="c" style="left:819px;top:590px;width:12px;height:11px;background:#f23538;"></div>
<div class="c" style="left:789px;top:602px;width:17px;height:9px;background:#f23538;"></div>
<div class="c" style="left:807px;top:602px;width:11px;height:9px;background:#f23538;"></div>
<div class="c" style="left:819px;top:602px;width:12px;height:9px;background:#2f9e4f;"></div>
<div class="c two" style="left:621px;top:626px;width:135px;height:60px;background:#30cc5a;font-size:11px;"><span id="c421_0" style="transform:scaleX(0.820)">حتاسا۱</span><span id="c421_1" class="p" style="transform:scaleX(0.820)">۵%</span></div>
<div class="c two" style="left:621px;top:688px;width:135px;height:36px;background:#f23538;font-size:10px;"><span id="c422_0" style="transform:scaleX(0.820)">توریل۱</span><span id="c422_1" class="p" style="transform:scaleX(0.820)">-۵%</span></div>
<div class="c two" style="left:757px;top:626px;width:50px;height:52px;background:#f23538;font-size:10px;"><span id="c423_0" style="transform:scaleX(0.820)">حکشتی۱</span><span id="c423_1" class="p" style="transform:scaleX(0.820)">-۴.۹۸%</span></div>
<div class="c" style="left:808px;top:626px;width:23px;height:52px;background:#35474e;"></div>
<div class="c two" style="left:757px;top:680px;width:39px;height:25px;background:#f23538;font-size:9px;"><span id="c425_0" style="transform:scaleX(0.820)">حتاید۱</span><span id="c425_1" class="p" style="transform:scaleX(0.820)">-۴.۹۸%</span></div>
<div class="c" style="left:797px;top:680px;width:20px;height:25px;background:#f23538;"></div>
<div class="c" style="left:818px;top:680px;width:13px;height:25px;background:#f23538;"></div>
<div class="c" style="left:757px;top:706px;width:39px;height:18px;background:#f23538;font-size:9px;"><span id="c428_0" style="transform:scaleX(0.820)">حریل۱</span></div>
<div class="c" style="left:797px;top:706px;width:29px;height:10px;background:#30cc5a;"></div>
<div class="c" style="left:797px;top:717px;width:29px;height:7px;background:#30cc5a;"></div>
<div class="c" style="left:827px;top:706px;width:4px;height:18px;background:#bd4045;"></div>
<div class="c two" style="left:832px;top:249px;width:130px;height:129px;background:#f23538;font-size:11px;"><span id="c432_0" style="transform:scaleX(0.820)">شستا۱</span><span id="c432_1" class="p" style="transform:scaleX(0.820)">-۴.۹۸%</span></div>
<div class="c" style="left:832px;top:380px;width:49px;height:24px;background:#f23538;font-size:9px;"><span id="c433_0" style="transform:scaleX(0.820)">وغدیر۱</span></div>
<div class="c" style="left:882px;top:380px;width:39px;height:24px;background:#41434f;font-size:9px;"><span id="c434_0" style="transform:scaleX(0.820)">وامید۱</span></div>
<div class="c" style="left:922px;top:380px;width:25px;height:24px;background:#f23538;"></div>
<div class="c" style="left:948px;top:380px;width:14px;height:24px;background:#f23538;"></div>
<div class="c two" style="left:964px;top:249px;width:43px;height:64px;background:#30cc5a;font-size:9px;"><span id="c437_0" style="transform:scaleX(0.820)">کسعدی۱</span><span id="c437_1" class="p" style="transform:scaleX(0.820)">۴.۹۶%</span></div>
<div class="c two" style="left:1008px;top:249px;width:38px;height:64px;background:#33504a;font-size:9px;"><span id="c438_0" style="transform:scaleX(0.820)">کلوتد۱</span><span id="c438_1" class="p" style="transform:scaleX(0.820)">۰.۵۷%</span></div>
<div class="c two" style="left:964px;top:314px;width:40px;height:54px;background:#f23538;font-size:9px;"><span id="c439_0" style="transform:scaleX(0.820)">کتراز۱</span><span id="c439_1" class="p" style="transform:scaleX(0.820)">-۴.۹۹%</span></div>
<div class="c two" style="left:1005px;top:314px;width:41px;height:54px;background:#f23538;font-size:9px;"><span id="c440_0" style="transform:scaleX(0.820)">کپارس۱</span><span id="c440_1" class="p" style="transform:scaleX(0.820)">-۵%</span></div>
<div class="c" style="left:964px;top:369px;width:37px;height:35px;background:#30cc5a;"></div>
<div class="c" style="left:1002px;top:369px;width:34px;height:18px;background:#30cc5a;font-size:8px;"><span id="c442_0" style="transform:scaleX(0.820)">کهرام۱</span></div>
<div class="c" style="left:1002px;top:388px;width:34px;height:16px;background:#f23538;font-size:8px;"><span id="c443_0" style="transform:scaleX(0.820)">کفافلا۱</span></div>
<div class="c" style="left:1037px;top:369px;width:9px;height:35px;background:#f23538;"></div>
<div class="c two" style="left:832px;top:420px;width:82px;height:70px;background:#4b3f49;font-size:11px;"><span id="c445_0" style="transform:scaleX(0.820)">سیستم۱</span><span id="c445_1" class="p" style="transform:scaleX(0.820)">-۰.۳۲%</span></div>
<div class="c two" style="left:915px;top:420px;width:44px;height:32px;background:#6e3c45;font-size:9px;"><span id="c446_0" style="transform:scaleX(0.820)">رکیش۱</span><span id="c446_1" class="p" style="transform:scaleX(0.820)">-۱.۲۲%</span></div>
<div class="c" style="left:960px;top:420px;width:19px;height:32px;background:#f23538;"></div>
<div class="c" style="left:915px;top:453px;width:30px;height:20px;background:#30cc5a;"></div>
<div class="c" style="left:946px;top:453px;width:11px;height:20px;background:#f23538;"></div>
<div class="c" style="left:958px;top:453px;width:10px;height:20px;background:#f23538;"></div>
<div class="c" style="left:969px;top:453px;width:10px;height:20px;background:#f23538;"></div>
<div class="c" style="left:915px;top:474px;width:30px;height:16px;background:#f23538;font-size:8px;"><span id="c452_0" style="transform:scaleX(0.820)">افرا۱</span></div>
<div class="c" style="left:946px;top:474px;width:22px;height:8px;background:#f23538;"></div>
<div class="c" style="left:946px;top:483px;width:22px;height:7px;background:#f23538;"></div>
<div class="c" style="left:969px;top:474px;width:10px;height:8px;background:#2f9e4f;"></div>
<div class="c" style="left:969px;top:483px;width:10px;height:7px;background:#30cc5a;"></div>
<div class="c two" style="left:832px;top:505px;width:113px;height:35px;background:#30cc5a;font-size:10px;"><span id="c457_0" style="transform:scaleX(0.820)">بکام۱</span><span id="c457_1" class="p" style="transform:scaleX(0.820)">۴.۸۹%</span></div>
<div class="c two" style="left:832px;top:541px;width:113px;height:31px;background:#f23538;font-size:10px;"><span id="c458_0" style="transform:scaleX(0.820)">بکاب۱</span><span id="c458_1" class="p" style="transform:scaleX(0.820)">-۵%</span></div>
<div class="c two" style="left:946px;top:505px;width:33px;height:44px;background:#2f9e4f;font-size:8px;"><span id="c459_0" style="transform:scaleX(0.820)">پاکا۱</span><span id="c459_1" class="p" style="transform:scaleX(0.820)">۳%</span></div>
<div class="c" style="left:946px;top:550px;width:26px;height:13px;background:#30cc5a;font-size:7px;"><span id="c460_0" style="transform:scaleX(0.820)">بورا۱</span></div>
<div class="c" style="left:946px;top:564px;width:26px;height:8px;background:#f23538;"></div>
<div class="c" style="left:973px;top:550px;width:6px;height:22px;background:#30cc5a;"></div>
<div class="c two" style="left:832px;top:588px;width:132px;height:65px;background:#f23538;font-size:11px;"><span id="c463_0" style="transform:scaleX(0.820)">قاسم۱</span><span id="c463_1" class="p" style="transform:scaleX(0.820)">-۵%</span></div>
<div class="c" style="left:965px;top:588px;width:14px;height:65px;background:#bd4045;"></div>
<div class="c two" style="left:832px;top:668px;width:45px;height:30px;background:#f23538;font-size:10px;"><span id="c465_0" style="transform:scaleX(0.732)">وسمادن۱</span><span id="c465_1" class="p" style="transform:scaleX(0.820)">-۴.۹۵%</span></div>
<div class="c two" style="left:878px;top:668px;width:40px;height:30px;background:#bd4045;font-size:9px;"><span id="c466_0" style="transform:scaleX(0.820)">تکنار۱</span><span id="c466_1" class="p" style="transform:scaleX(0.820)">-۳%</span></div>
<div class="c" style="left:919px;top:668px;width:26px;height:33px;background:#f23538;"></div>
<div class="c" style="left:946px;top:668px;width:17px;height:33px;background:#f23538;"></div>
<div class="c" style="left:964px;top:668px;width:15px;height:33px;background:#f23538;"></div>
<div class="c two" style="left:832px;top:699px;width:45px;height:25px;background:#f23538;font-size:9px;"><span id="c470_0" style="transform:scaleX(0.820)">کچاد۱</span><span id="c470_1" class="p" style="transform:scaleX(0.820)">-۴.۲۴%</span></div>
<div class="c two" style="left:878px;top:699px;width:40px;height:25px;background:#f23538;font-size:9px;"><span id="c471_0" style="transform:scaleX(0.820)">کگل۱</span><span id="c471_1" class="p" style="transform:scaleX(0.820)">-۴.۱۷%</span></div>
<div class="c" style="left:919px;top:702px;width:28px;height:12px;background:#f23538;font-size:7px;"><span id="c472_0" style="transform:scaleX(0.820)">کاما۱</span></div>
<div class="c" style="left:948px;top:702px;width:15px;height:15px;background:#bd4045;"></div>
<div class="c" style="left:964px;top:702px;width:15px;height:15px;background:#f23538;"></div>
<div class="c" style="left:919px;top:715px;width:28px;height:9px;background:#f23538;"></div>
<div class="c" style="left:948px;top:718px;width:15px;height:6px;background:#f23538;"></div>
<div class="c" style="left:964px;top:718px;width:15px;height:6px;background:#35474e;"></div>
<div class="c" style="left:980px;top:420px;width:29px;height:48px;background:#f23538;"></div>
<div class="c" style="left:1010px;top:420px;width:25px;height:48px;background:#f23538;"></div>
<div class="c" style="left:1036px;top:420px;width:26px;height:48px;background:#cb3b3f;"></div>
<div class="c two" style="left:980px;top:470px;width:46px;height:27px;background:#a53e43;font-size:9px;"><span id="c481_0" style="transform:scaleX(0.820)">قجام۱</span><span id="c481_1" class="p" style="transform:scaleX(0.820)">-۳%</span></div>
<div class="c" style="left:980px;top:498px;width:46px;height:17px;background:#f23538;font-size:9px;"><span id="c482_0" style="transform:scaleX(0.820)">قصفها۱</span></div>
<div class="c" style="left:980px;top:516px;width:46px;height:18px;background:#f23538;font-size:9px;"><span id="c483_0" style="transform:scaleX(0.820)">قپیرا۱</span></div>
<div class="c" style="left:1027px;top:470px;width:21px;height:35px;background:#30cc5a;"></div>
<div class="c" style="left:1049px;top:470px;width:13px;height:35px;background:#30cc5a;"></div>
<div class="c" style="left:1027px;top:506px;width:21px;height:14px;background:#35764e;"></div>
<div class="c" style="left:1027px;top:521px;width:21px;height:13px;background:#f23538;"></div>
<div class="c" style="left:1049px;top:506px;width:13px;height:14px;background:#f23538;"></div>
<div class="c" style="left:1049px;top:521px;width:13px;height:13px;background:#f23538;"></div>
<div class="c two" style="left:1063px;top:420px;width:41px;height:55px;background:#f23538;font-size:9px;"><span id="c490_0" style="transform:scaleX(0.820)">انرژی۳۱</span><span id="c490_1" class="p" style="transform:scaleX(0.820)">-۵%</span></div>
<div class="c two" style="left:1105px;top:420px;width:39px;height:55px;background:#35764e;font-size:9px;"><span id="c491_0" style="transform:scaleX(0.820)">امین۱</span><span id="c491_1" class="p" style="transform:scaleX(0.820)">۱.۹۶%</span></div>
<div class="c two" style="left:1063px;top:477px;width:45px;height:27px;background:#35764e;font-size:9px;"><span id="c492_0" style="transform:scaleX(0.820)">لوتوس۱</span><span id="c492_1" class="p" style="transform:scaleX(0.820)">۲.۶%</span></div>
<div class="c" style="left:1110px;top:477px;width:18px;height:27px;background:#f23538;"></div>
<div class="c" style="left:1129px;top:477px;width:15px;height:27px;background:#f23538;"></div>
<div class="c" style="left:1063px;top:505px;width:45px;height:13px;background:#f23538;font-size:9px;"><span id="c495_0" style="transform:scaleX(0.732)">فرابورس۱</span></div>
<div class="c" style="left:1063px;top:519px;width:45px;height:15px;background:#f23538;font-size:9px;"><span id="c496_0" style="transform:scaleX(0.820)">تماوند۱</span></div>
<div class="c" style="left:1110px;top:505px;width:25px;height:13px;background:#f23538;font-size:7px;"><span id="c497_0" style="transform:scaleX(0.820)">امید۱</span></div>
<div class="c" style="left:1110px;top:519px;width:25px;height:15px;background:#f23538;"></div>
<div class="c" style="left:1136px;top:505px;width:8px;height:29px;background:#f23538;"></div>
<div class="c two" style="left:1145px;top:420px;width:50px;height:53px;background:#a53e43;font-size:10px;"><span id="c500_0" style="transform:scaleX(0.820)">ولشرق۱</span><span id="c500_1" class="p" style="transform:scaleX(0.820)">-۲.۷۶%</span></div>
<div class="c" style="left:1196px;top:420px;width:23px;height:53px;background:#f23538;"></div>
<div class="c two" style="left:1145px;top:474px;width:37px;height:30px;background:#33504a;font-size:8px;"><span id="c502_0" style="transform:scaleX(0.820)">ولتجار۱</span><span id="c502_1" class="p" style="transform:scaleX(0.820)">۰.۶۷%</span></div>
<div class="c two" style="left:1145px;top:505px;width:37px;height:29px;background:#bd4045;font-size:8px;"><span id="c503_0" style="transform:scaleX(0.820)">ولانا۱</span><span id="c503_1" class="p" style="transform:scaleX(0.820)">-۳.۲۷%</span></div>
<div class="c" style="left:1183px;top:474px;width:22px;height:38px;background:#30cc5a;"></div>
<div class="c" style="left:1206px;top:474px;width:13px;height:38px;background:#30cc5a;"></div>
<div class="c" style="left:1183px;top:513px;width:28px;height:13px;background:#2f9e4f;"></div>
<div class="c" style="left:1212px;top:513px;width:7px;height:13px;background:#2f9e4f;"></div>
<div class="c" style="left:1183px;top:527px;width:28px;height:7px;background:#2f9e4f;"></div>
<div class="c" style="left:1212px;top:527px;width:7px;height:7px;background:#f23538;"></div>
<div class="c two" style="left:1220px;top:420px;width:60px;height:114px;background:#e6373b;font-size:11px;"><span id="c510_0" style="transform:scaleX(0.820)">بمپلا۱</span><span id="c510_1" class="p" style="transform:scaleX(0.820)">-۴.۵۴%</span></div>
<div class="c two" style="left:1047px;top:249px;width:45px;height:44px;background:#35764e;font-size:10px;"><span id="c511_0" style="transform:scaleX(0.820)">زپارس۱</span><span id="c511_1" class="p" style="transform:scaleX(0.820)">۱.۱۵%</span></div>
<div class="c two" style="left:1093px;top:249px;width:35px;height:44px;background:#f23538;font-size:8px;"><span id="c512_0" style="transform:scaleX(0.820)">زکوثر۱</span><span id="c512_1" class="p" style="transform:scaleX(0.820)">-۴.۰۹%</span></div>
<div class="c two" style="left:1047px;top:294px;width:37px;height:39px;background:#f23538;font-size:8px;"><span id="c513_0" style="transform:scaleX(0.820)">زبینا۱</span><span id="c513_1" class="p" style="transform:scaleX(0.820)">-۵%</span></div>
<div class="c" style="left:1085px;top:294px;width:22px;height:39px;background:#f23538;"></div>
<div class="c" style="left:1108px;top:294px;width:20px;height:39px;background:#2f9e4f;"></div>
<div class="c" style="left:1047px;top:334px;width:42px;height:18px;background:#35764e;font-size:9px;"><span id="c516_0" style="transform:scaleX(0.820)">زماهان۱</span></div>
<div class="c" style="left:1047px;top:353px;width:42px;height:16px;background:#f23538;font-size:9px;"><span id="c517_0" style="transform:scaleX(0.820)">زشت۱</span></div>
<div class="c" style="left:1090px;top:334px;width:18px;height:30px;background:#f23538;"></div>
<div class="c" style="left:1109px;top:334px;width:19px;height:30px;background:#f23538;"></div>
<div class="c" style="left:1090px;top:365px;width:18px;height:18px;background:#f23538;"></div>
<div class="c" style="left:1109px;top:365px;width:19px;height:18px;background:#30cc5a;"></div>
<div class="c" style="left:1047px;top:370px;width:42px;height:17px;background:#f23538;font-size:9px;"><span id="c522_0" style="transform:scaleX(0.820)">زملارد۱</span></div>
<div class="c" style="left:1047px;top:388px;width:42px;height:16px;background:#30cc5a;font-size:9px;"><span id="c523_0" style="transform:scaleX(0.820)">زکشت۱</span></div>
<div class="c" style="left:1090px;top:384px;width:31px;height:9px;background:#f23538;"></div>
<div class="c" style="left:1090px;top:394px;width:31px;height:10px;background:#2f9e4f;"></div>
<div class="c" style="left:1122px;top:384px;width:6px;height:20px;background:#30cc5a;"></div>
<div class="c two" style="left:1129px;top:249px;width:43px;height:88px;background:#35474e;font-size:9px;"><span id="c527_0" style="transform:scaleX(0.820)">ولپارس۱</span><span id="c527_1" class="p" style="transform:scaleX(0.820)">۰.۱۴%</span></div>
<div class="c two" style="left:1173px;top:249px;width:34px;height:88px;background:#30cc5a;font-size:8px;"><span id="c528_0" style="transform:scaleX(0.820)">ولیران۱</span><span id="c528_1" class="p" style="transform:scaleX(0.820)">۴.۹%</span></div>
<div class="c two" style="left:1129px;top:339px;width:51px;height:36px;background:#f23538;font-size:10px;"><span id="c529_0" style="transform:scaleX(0.820)">ولقدر۱</span><span id="c529_1" class="p" style="transform:scaleX(0.820)">-۴.۳۵%</span></div>
<div class="c two" style="left:1181px;top:339px;width:26px;height:30px;background:#30cc5a;font-size:7px;"><span id="c530_0" style="transform:scaleX(0.820)">ولیزا۱</span><span id="c530_1" class="p" style="transform:scaleX(0.820)">۴.۹۶%</span></div>
<div class="c two" style="left:1129px;top:376px;width:51px;height:28px;background:#30cc5a;font-size:10px;"><span id="c531_0" style="transform:scaleX(0.820)">ولصنم۱</span><span id="c531_1" class="p" style="transform:scaleX(0.820)">۳.۹۴%</span></div>
<div class="c" style="left:1181px;top:370px;width:26px;height:26px;background:#f23538;"></div>
<div class="c" style="left:1181px;top:397px;width:12px;height:7px;background:#f23538;"></div>
<div class="c" style="left:1194px;top:397px;width:13px;height:7px;background:#f23538;"></div>
<div class="c two" style="left:1208px;top:249px;width:72px;height:63px;background:#a53e43;font-size:11px;"><span id="c535_0" style="transform:scaleX(0.820)">تکشا۱</span><span id="c535_1" class="p" style="transform:scaleX(0.820)">-۲.۳۲%</span></div>
<div class="c two" style="left:1208px;top:314px;width:31px;height:43px;background:#35764e;font-size:8px;"><span id="c536_0" style="transform:scaleX(0.820)">لبوتان۱</span><span id="c536_1" class="p" style="transform:scaleX(0.820)">۱.۶%</span></div>
<div class="c" style="left:1240px;top:314px;width:21px;height:43px;background:#f23538;"></div>
<div class="c" style="left:1262px;top:314px;width:18px;height:43px;background:#f23538;"></div>
<div class="c" style="left:1208px;top:358px;width:34px;height:23px;background:#30cc5a;font-size:8px;"><span id="c539_0" style="transform:scaleX(0.820)">لخزر۱</span></div>
<div class="c" style="left:1208px;top:382px;width:34px;height:22px;background:#a53e43;font-size:8px;"><span id="c540_0" style="transform:scaleX(0.820)">وتوشه۱</span></div>
<div class="c" style="left:1243px;top:358px;width:20px;height:30px;background:#f23538;"></div>
<div class="c" style="left:1264px;top:358px;width:16px;height:30px;background:#f23538;"></div>
<div class="c" style="left:1243px;top:390px;width:33px;height:14px;background:#a53e43;font-size:8px;"><span id="c543_0" style="transform:scaleX(0.820)">لسرما۱</span></div>
<div class="c" style="left:1277px;top:390px;width:3px;height:14px;background:#30cc5a;"></div>
<div class="c two" style="left:980px;top:549px;width:54px;height:30px;background:#f23538;font-size:10px;"><span id="c545_0" style="transform:scaleX(0.820)">بپیوند۱</span><span id="c545_1" class="p" style="transform:scaleX(0.820)">-۵%</span></div>
<div class="c" style="left:980px;top:580px;width:54px;height:12px;background:#6e3c45;font-size:9px;"><span id="c546_0" style="transform:scaleX(0.820)">آبادا۱</span></div>
<div class="c" style="left:980px;top:593px;width:54px;height:13px;background:#f23538;font-size:9px;"><span id="c547_0" style="transform:scaleX(0.820)">دماوند۱</span></div>
<div class="c" style="left:1035px;top:549px;width:28px;height:20px;background:#8b3c45;"></div>
<div class="c" style="left:1064px;top:549px;width:22px;height:20px;background:#f23538;"></div>
<div class="c" style="left:1035px;top:570px;width:30px;height:12px;background:#f23538;"></div>
<div class="c" style="left:1035px;top:583px;width:30px;height:11px;background:#f23538;"></div>
<div class="c" style="left:1035px;top:595px;width:30px;height:11px;background:#f23538;"></div>
<div class="c" style="left:1066px;top:570px;width:11px;height:24px;background:#f23538;"></div>
<div class="c" style="left:1078px;top:570px;width:8px;height:24px;background:#f23538;"></div>
<div class="c" style="left:1066px;top:595px;width:20px;height:5px;background:#f23538;"></div>
<div class="c" style="left:1066px;top:601px;width:20px;height:5px;background:#f23538;"></div>
<div class="c two" style="left:980px;top:621px;width:91px;height:56px;background:#30cc5a;font-size:11px;"><span id="c557_0" style="transform:scaleX(0.820)">چکاپا۱</span><span id="c557_1" class="p" style="transform:scaleX(0.820)">۴.۹۵%</span></div>
<div class="c" style="left:1072px;top:621px;width:14px;height:33px;background:#f23538;"></div>
<div class="c" style="left:1072px;top:655px;width:14px;height:22px;background:#f23538;"></div>
<div class="c two" style="left:980px;top:692px;width:54px;height:32px;background:#bd4045;font-size:10px;"><span id="c560_0" style="transform:scaleX(0.820)">لکما۱</span><span id="c560_1" class="p" style="transform:scaleX(0.820)">-۳%</span></div>
<div class="c" style="left:1035px;top:692px;width:51px;height:22px;background:#2f9e4f;font-size:9px;"><span id="c561_0" style="transform:scaleX(0.820)">لپیام۱</span></div>
<div class="c" style="left:1035px;top:715px;width:51px;height:9px;background:#f23538;"></div>
<div class="c two" style="left:1088px;top:549px;width:39px;height:39px;background:#f23538;font-size:9px;"><span id="c563_0" style="transform:scaleX(0.820)">پاسا۱</span><span id="c563_1" class="p" style="transform:scaleX(0.820)">-۴.۹۳%</span></div>
<div class="c two" style="left:1128px;top:549px;width:28px;height:39px;background:#f23538;font-size:7px;"><span id="c564_0" style="transform:scaleX(0.820)">پیزد۱</span><span id="c564_1" class="p" style="transform:scaleX(0.820)">-۵%</span></div>
<div class="c" style="left:1088px;top:589px;width:35px;height:12px;background:#f23538;"></div>
<div class="c" style="left:1088px;top:602px;width:35px;height:10px;background:#f23538;"></div>
<div class="c" style="left:1124px;top:589px;width:21px;height:15px;background:#30cc5a;"></div>
<div class="c" style="left:1124px;top:605px;width:21px;height:7px;background:#2f9e4f;"></div>
<div class="c" style="left:1146px;top:589px;width:10px;height:12px;background:#f23538;"></div>
<div class="c" style="left:1146px;top:602px;width:5px;height:10px;background:#f23538;"></div>
<div class="c" style="left:1152px;top:602px;width:4px;height:10px;background:#30cc5a;"></div>
<div class="c two" style="left:1157px;top:549px;width:67px;height:42px;background:#2f5848;font-size:11px;"><span id="c572_0" style="transform:scaleX(0.820)">خفولا۱</span><span id="c572_1" class="p" style="transform:scaleX(0.820)">۰.۹۳%</span></div>
<div class="c" style="left:1157px;top:593px;width:24px;height:19px;background:#f23538;"></div>
<div class="c" style="left:1182px;top:593px;width:23px;height:19px;background:#f23538;"></div>
<div class="c" style="left:1206px;top:593px;width:18px;height:11px;background:#f23538;"></div>
<div class="c" style="left:1206px;top:605px;width:9px;height:7px;background:#2f9e4f;"></div>
<div class="c" style="left:1216px;top:605px;width:8px;height:7px;background:#2f9e4f;"></div>
<div class="c" style="left:1225px;top:549px;width:31px;height:37px;background:#f23538;"></div>
<div class="c" style="left:1257px;top:549px;width:23px;height:37px;background:#f23538;"></div>
<div class="c" style="left:1225px;top:588px;width:31px;height:24px;background:#f23538;font-size:8px;"><span id="c580_0" style="transform:scaleX(0.820)">فلزا۱</span></div>
<div class="c" style="left:1257px;top:588px;width:23px;height:14px;background:#bd4045;font-size:7px;"><span id="c581_0" style="transform:scaleX(0.820)">فاما۱</span></div>
<div class="c" style="left:1257px;top:603px;width:11px;height:9px;background:#30cc5a;"></div>
<div class="c" style="left:1269px;top:603px;width:11px;height:9px;background:#bd4045;"></div>
<div class="c two" style="left:1088px;top:627px;width:59px;height:32px;background:#f23538;font-size:10px;"><span id="c584_0" style="transform:scaleX(0.820)">چفیبر۱</span><span id="c584_1" class="p" style="transform:scaleX(0.820)">-۴.۹۶%</span></div>
<div class="c" style="left:1148px;top:627px;width:8px;height:32px;background:#30cc5a;"></div>
<div class="c" style="left:1088px;top:674px;width:49px;height:20px;background:#f23538;font-size:9px;"><span id="c586_0" style="transform:scaleX(0.820)">اخابر۱</span></div>
<div class="c" style="left:1138px;top:674px;width:18px;height:20px;background:#f23538;"></div>
<div class="c" style="left:1088px;top:710px;width:63px;height:14px;background:#f23538;font-size:9px;"><span id="c588_0" style="transform:scaleX(0.820)">حفاری۱</span></div>
<div class="c" style="left:1152px;top:710px;width:4px;height:14px;background:#f23538;"></div>
<div class="c" style="left:1157px;top:627px;width:42px;height:12px;background:#bd4045;"></div>
<div class="c" style="left:1157px;top:640px;width:42px;height:12px;background:#f23538;"></div>
<div class="c" style="left:1200px;top:627px;width:14px;height:25px;background:#bd4045;"></div>
<div class="c" style="left:1157px;top:667px;width:57px;height:25px;background:#2f9e4f;font-size:9px;"><span id="c593_0" style="transform:scaleX(0.820)">وهنر۱</span></div>
<div class="c" style="left:1157px;top:707px;width:29px;height:17px;background:#f23538;"></div>
<div class="c" style="left:1187px;top:707px;width:27px;height:17px;background:#30cc5a;"></div>
<div class="c two" style="left:1215px;top:627px;width:35px;height:27px;background:#f23538;font-size:8px;"><span id="c596_0" style="transform:scaleX(0.820)">سمگا۱</span><span id="c596_1" class="p" style="transform:scaleX(0.820)">-۵%</span></div>
<div class="c" style="left:1215px;top:655px;width:18px;height:10px;background:#f23538;"></div>
<div class="c" style="left:1234px;top:655px;width:16px;height:5px;background:#30cc5a;"></div>
<div class="c" style="left:1234px;top:661px;width:16px;height:4px;background:#bd4045;"></div>
<div class="c" style="left:1215px;top:680px;width:42px;height:8px;background:#f23538;"></div>
<div class="c" style="left:1215px;top:701px;width:36px;height:7px;background:#30cc5a;"></div>
<div class="c" style="left:1252px;top:701px;width:5px;height:7px;background:#f23538;"></div>
<div class="c" style="left:1215px;top:722px;width:42px;height:2px;background:#30cc5a;"></div>
<div class="c" style="left:1251px;top:627px;width:29px;height:19px;background:#30cc5a;"></div>
<div class="c" style="left:1251px;top:647px;width:22px;height:18px;background:#f23538;"></div>
<div class="c" style="left:1274px;top:647px;width:6px;height:18px;background:#f23538;"></div>
<div class="c" style="left:1258px;top:680px;width:22px;height:13px;background:#30cc5a;"></div>
<div class="c" style="left:1258px;top:707px;width:22px;height:7px;background:#f23538;"></div>
</body></html>
